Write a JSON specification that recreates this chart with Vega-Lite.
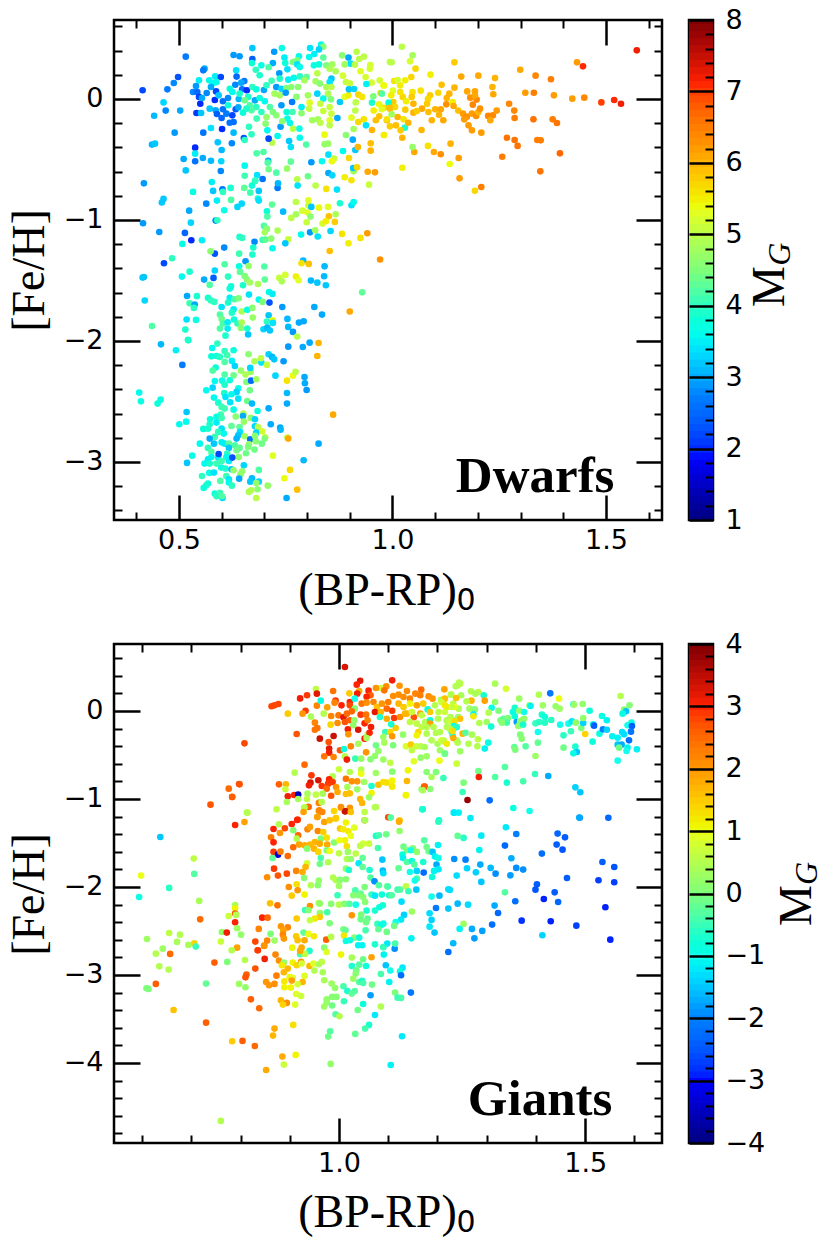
{"$schema":"https://vega.github.io/schema/vega-lite/v6.json","background":"white","padding":{"left":4,"top":4,"right":0,"bottom":0},"config":{"view":{"stroke":"black","strokeWidth":2.5},"axis":{"grid":false,"domain":false,"tickColor":"black","labelColor":"black","labelFont":"DejaVu Sans","labelFontSize":27,"titleColor":"black","titleFont":"Liberation Serif","titleFontWeight":"normal","titleFontSize":46,"titleBaseline":"alphabetic","labelOverlap":false,"labelFlush":false}},
"datasets":{
"dwarfs":[{"x":0.415,"y":0.072,"m":2.2},{"x":0.516,"y":0.35,"m":2.7},{"x":0.498,"y":0.182,"m":2.3},{"x":0.488,"y":0.132,"m":2.8},{"x":0.473,"y":0.08,"m":2.7},{"x":0.464,"y":-0.028,"m":3.3},{"x":0.469,"y":-0.096,"m":2.8},{"x":0.503,"y":-0.096,"m":3.0},{"x":0.442,"y":-0.138,"m":3.1},{"x":0.49,"y":-0.278,"m":2.9},{"x":0.437,"y":-0.377,"m":3.1},{"x":0.444,"y":-0.369,"m":3.2},{"x":0.56,"y":0.251,"m":3.0},{"x":0.557,"y":0.237,"m":2.7},{"x":0.547,"y":0.154,"m":3.5},{"x":0.54,"y":0.107,"m":2.9},{"x":0.533,"y":0.058,"m":2.8},{"x":0.543,"y":0.058,"m":2.5},{"x":0.547,"y":0.017,"m":2.2},{"x":0.55,"y":-0.039,"m":2.0},{"x":0.541,"y":-0.116,"m":2.1},{"x":0.552,"y":-0.116,"m":3.2},{"x":0.565,"y":0.05,"m":2.8},{"x":0.554,"y":0.008,"m":3.0},{"x":0.571,"y":0.154,"m":3.6},{"x":0.585,"y":0.187,"m":3.5},{"x":0.598,"y":0.182,"m":2.2},{"x":0.58,"y":0.132,"m":3.6},{"x":0.588,"y":0.14,"m":3.6},{"x":0.575,"y":0.099,"m":3.0},{"x":0.587,"y":0.063,"m":2.2},{"x":0.584,"y":-0.008,"m":2.0},{"x":0.593,"y":0.03,"m":3.2},{"x":0.603,"y":-0.019,"m":2.6},{"x":0.615,"y":0.008,"m":2.8},{"x":0.572,"y":-0.08,"m":3.2},{"x":0.586,"y":-0.094,"m":3.0},{"x":0.589,"y":-0.124,"m":2.4},{"x":0.603,"y":-0.085,"m":2.6},{"x":0.611,"y":-0.121,"m":2.7},{"x":0.6,"y":-0.157,"m":2.5},{"x":0.619,"y":-0.196,"m":2.6},{"x":0.628,"y":-0.19,"m":2.6},{"x":0.625,"y":-0.135,"m":2.2},{"x":0.633,"y":-0.085,"m":2.4},{"x":0.639,"y":-0.069,"m":3.0},{"x":0.615,"y":-0.052,"m":3.8},{"x":0.64,"y":0.0,"m":3.1},{"x":0.575,"y":-0.24,"m":3.4},{"x":0.601,"y":-0.248,"m":2.0},{"x":0.628,"y":-0.278,"m":3.1},{"x":0.557,"y":-0.278,"m":2.6},{"x":0.591,"y":-0.358,"m":3.2},{"x":0.6,"y":-0.422,"m":3.1},{"x":0.624,"y":-0.366,"m":2.8},{"x":0.652,"y":-0.322,"m":2.3},{"x":0.654,"y":-0.339,"m":4.0},{"x":0.67,"y":-0.292,"m":4.0},{"x":0.538,"y":-0.402,"m":2.0},{"x":0.538,"y":-0.452,"m":3.5},{"x":0.538,"y":-0.515,"m":2.6},{"x":0.556,"y":-0.488,"m":3.0},{"x":0.511,"y":-0.496,"m":3.0},{"x":0.575,"y":-0.51,"m":3.1},{"x":0.599,"y":-0.515,"m":3.3},{"x":0.516,"y":-0.59,"m":3.2},{"x":0.598,"y":-0.595,"m":2.8},{"x":0.654,"y":-0.551,"m":3.6},{"x":0.654,"y":-0.634,"m":4.1},{"x":0.683,"y":-0.628,"m":3.4},{"x":0.696,"y":-0.661,"m":2.6},{"x":0.679,"y":-0.672,"m":4.0},{"x":0.709,"y":-0.512,"m":3.0},{"x":0.708,"y":-0.526,"m":4.2},{"x":0.71,"y":-0.581,"m":4.4},{"x":0.728,"y":-0.609,"m":4.2},{"x":0.753,"y":-0.576,"m":4.7},{"x":0.762,"y":-0.518,"m":4.3},{"x":0.682,"y":-0.449,"m":4.2},{"x":0.698,"y":-0.438,"m":4.2},{"x":0.81,"y":-0.523,"m":2.9},{"x":0.835,"y":-0.515,"m":3.6},{"x":0.85,"y":-0.46,"m":3.4},{"x":0.777,"y":-0.664,"m":5.0},{"x":0.802,"y":-0.639,"m":4.4},{"x":0.85,"y":-0.612,"m":3.0},{"x":0.859,"y":-0.631,"m":3.3},{"x":0.888,"y":-0.647,"m":5.5},{"x":0.904,"y":-0.672,"m":5.6},{"x":0.909,"y":-0.598,"m":4.8},{"x":0.908,"y":-0.57,"m":3.2},{"x":0.917,"y":-0.565,"m":5.7},{"x":0.942,"y":-0.601,"m":6.1},{"x":0.959,"y":-0.606,"m":6.2},{"x":0.863,"y":-0.493,"m":5.1},{"x":0.858,"y":-0.515,"m":5.4},{"x":0.898,"y":-0.488,"m":5.7},{"x":0.884,"y":-0.43,"m":3.6},{"x":0.913,"y":-0.422,"m":3.2},{"x":0.919,"y":-0.397,"m":6.0},{"x":0.907,"y":-0.336,"m":3.0},{"x":0.949,"y":-0.366,"m":5.9},{"x":0.949,"y":-0.427,"m":6.0},{"x":0.952,"y":-0.256,"m":6.0},{"x":0.841,"y":-0.375,"m":4.7},{"x":0.849,"y":-0.369,"m":4.7},{"x":0.841,"y":-0.295,"m":5.4},{"x":0.798,"y":-0.377,"m":4.2},{"x":0.783,"y":-0.32,"m":3.6},{"x":0.782,"y":-0.245,"m":3.7},{"x":0.767,"y":-0.245,"m":5.0},{"x":0.758,"y":-0.347,"m":3.2},{"x":0.762,"y":-0.397,"m":3.4},{"x":0.718,"y":-0.361,"m":5.0},{"x":0.71,"y":-0.328,"m":2.2},{"x":0.707,"y":-0.259,"m":3.6},{"x":0.731,"y":-0.306,"m":3.6},{"x":0.738,"y":-0.229,"m":2.9},{"x":0.664,"y":-0.229,"m":4.0},{"x":0.672,"y":0.421,"m":3.2},{"x":0.628,"y":0.364,"m":2.9},{"x":0.642,"y":0.353,"m":2.9},{"x":0.672,"y":0.331,"m":2.4},{"x":0.671,"y":0.297,"m":3.8},{"x":0.723,"y":0.391,"m":2.9},{"x":0.741,"y":0.421,"m":3.7},{"x":0.747,"y":0.342,"m":3.5},{"x":0.72,"y":0.297,"m":3.0},{"x":0.693,"y":0.278,"m":3.7},{"x":0.71,"y":0.262,"m":4.2},{"x":0.68,"y":0.242,"m":4.0},{"x":0.634,"y":0.237,"m":3.4},{"x":0.635,"y":0.185,"m":2.5},{"x":0.735,"y":0.212,"m":2.9},{"x":0.689,"y":0.196,"m":3.9},{"x":0.749,"y":0.297,"m":3.8},{"x":0.754,"y":0.245,"m":3.4},{"x":0.781,"y":0.353,"m":3.6},{"x":0.767,"y":0.306,"m":4.5},{"x":0.777,"y":0.32,"m":4.5},{"x":0.777,"y":0.286,"m":3.4},{"x":0.783,"y":0.264,"m":3.6},{"x":0.807,"y":0.421,"m":3.4},{"x":0.833,"y":0.449,"m":3.6},{"x":0.838,"y":0.432,"m":4.6},{"x":0.828,"y":0.41,"m":3.3},{"x":0.817,"y":0.372,"m":3.5},{"x":0.805,"y":0.347,"m":3.6},{"x":0.838,"y":0.342,"m":4.3},{"x":0.816,"y":0.278,"m":3.7},{"x":0.828,"y":0.286,"m":3.8},{"x":0.845,"y":0.278,"m":4.5},{"x":0.859,"y":0.286,"m":4.8},{"x":0.853,"y":0.251,"m":4.9},{"x":0.867,"y":0.229,"m":4.9},{"x":0.824,"y":0.212,"m":5.0},{"x":0.882,"y":0.361,"m":4.6},{"x":0.897,"y":0.342,"m":3.0},{"x":0.902,"y":0.292,"m":3.4},{"x":0.888,"y":0.286,"m":4.8},{"x":0.916,"y":0.391,"m":5.0},{"x":0.922,"y":0.331,"m":5.0},{"x":0.933,"y":0.35,"m":5.0},{"x":0.912,"y":0.284,"m":5.0},{"x":0.948,"y":0.281,"m":5.2},{"x":0.947,"y":0.251,"m":5.2},{"x":0.925,"y":0.229,"m":5.3},{"x":0.884,"y":0.193,"m":5.2},{"x":0.937,"y":0.182,"m":5.2},{"x":0.857,"y":0.168,"m":3.2},{"x":0.853,"y":0.14,"m":3.4},{"x":0.82,"y":0.146,"m":4.8},{"x":0.83,"y":0.127,"m":4.6},{"x":0.891,"y":0.14,"m":5.1},{"x":0.9,"y":0.129,"m":5.1},{"x":0.951,"y":0.135,"m":5.2},{"x":0.939,"y":0.124,"m":3.5},{"x":0.97,"y":0.154,"m":5.2},{"x":0.98,"y":0.11,"m":5.3},{"x":0.994,"y":0.306,"m":5.0},{"x":0.653,"y":0.149,"m":2.7},{"x":0.646,"y":0.135,"m":3.0},{"x":0.632,"y":0.118,"m":2.8},{"x":0.619,"y":0.085,"m":3.8},{"x":0.625,"y":0.058,"m":3.6},{"x":0.648,"y":0.08,"m":2.6},{"x":0.659,"y":0.072,"m":2.0},{"x":0.672,"y":0.099,"m":4.0},{"x":0.681,"y":0.08,"m":3.8},{"x":0.699,"y":0.074,"m":3.0},{"x":0.705,"y":0.113,"m":4.0},{"x":0.717,"y":0.151,"m":4.1},{"x":0.736,"y":0.168,"m":3.9},{"x":0.756,"y":0.16,"m":3.5},{"x":0.769,"y":0.176,"m":3.6},{"x":0.783,"y":0.187,"m":4.0},{"x":0.799,"y":0.182,"m":4.3},{"x":0.728,"y":0.099,"m":2.9},{"x":0.74,"y":0.085,"m":3.3},{"x":0.752,"y":0.091,"m":4.5},{"x":0.763,"y":0.099,"m":4.6},{"x":0.779,"y":0.099,"m":4.6},{"x":0.794,"y":0.154,"m":4.8},{"x":0.724,"y":0.044,"m":4.8},{"x":0.736,"y":0.03,"m":4.8},{"x":0.75,"y":0.052,"m":2.9},{"x":0.775,"y":0.017,"m":4.6},{"x":0.802,"y":0.03,"m":4.8},{"x":0.824,"y":0.044,"m":3.3},{"x":0.845,"y":0.099,"m":4.9},{"x":0.857,"y":0.099,"m":5.0},{"x":0.849,"y":0.044,"m":4.9},{"x":0.838,"y":0.003,"m":3.6},{"x":0.856,"y":-0.003,"m":4.5},{"x":0.877,"y":-0.025,"m":3.2},{"x":0.888,"y":0.017,"m":5.3},{"x":0.897,"y":0.03,"m":5.5},{"x":0.898,"y":0.08,"m":3.2},{"x":0.91,"y":0.083,"m":3.3},{"x":0.92,"y":0.036,"m":5.7},{"x":0.929,"y":0.017,"m":5.6},{"x":0.955,"y":0.022,"m":4.5},{"x":0.952,"y":-0.03,"m":3.9},{"x":0.972,"y":0.05,"m":5.6},{"x":0.914,"y":-0.028,"m":5.0},{"x":0.969,"y":-0.044,"m":5.4},{"x":0.98,"y":-0.072,"m":5.6},{"x":0.956,"y":-0.096,"m":5.5},{"x":0.992,"y":-0.039,"m":6.0},{"x":0.994,"y":-0.08,"m":5.9},{"x":0.913,"y":-0.096,"m":5.0},{"x":0.904,"y":-0.154,"m":5.3},{"x":0.92,"y":-0.19,"m":5.7},{"x":0.933,"y":-0.168,"m":5.6},{"x":0.961,"y":-0.176,"m":5.9},{"x":0.969,"y":-0.143,"m":5.9},{"x":0.987,"y":-0.176,"m":6.0},{"x":0.938,"y":-0.218,"m":3.4},{"x":0.909,"y":-0.248,"m":4.8},{"x":0.98,"y":-0.298,"m":5.4},{"x":0.891,"y":-0.298,"m":4.6},{"x":0.678,"y":-0.011,"m":3.0},{"x":0.689,"y":0.008,"m":3.8},{"x":0.701,"y":-0.019,"m":3.6},{"x":0.666,"y":-0.052,"m":4.2},{"x":0.681,"y":-0.066,"m":4.0},{"x":0.65,"y":-0.113,"m":3.8},{"x":0.67,"y":-0.094,"m":4.2},{"x":0.693,"y":-0.107,"m":4.0},{"x":0.713,"y":-0.066,"m":4.2},{"x":0.72,"y":-0.107,"m":4.5},{"x":0.728,"y":-0.135,"m":4.6},{"x":0.74,"y":-0.052,"m":2.9},{"x":0.752,"y":-0.107,"m":3.8},{"x":0.766,"y":-0.107,"m":4.1},{"x":0.787,"y":-0.118,"m":4.6},{"x":0.754,"y":-0.162,"m":3.7},{"x":0.76,"y":-0.198,"m":3.6},{"x":0.742,"y":-0.184,"m":4.6},{"x":0.705,"y":-0.149,"m":4.7},{"x":0.703,"y":-0.204,"m":4.6},{"x":0.682,"y":-0.162,"m":4.1},{"x":0.765,"y":-0.025,"m":2.7},{"x":0.787,"y":-0.066,"m":3.5},{"x":0.805,"y":-0.08,"m":5.1},{"x":0.806,"y":-0.03,"m":5.3},{"x":0.831,"y":-0.039,"m":5.1},{"x":0.838,"y":-0.099,"m":5.1},{"x":0.853,"y":-0.066,"m":5.1},{"x":0.857,"y":-0.121,"m":5.1},{"x":0.871,"y":-0.157,"m":3.0},{"x":0.853,"y":-0.176,"m":5.3},{"x":0.812,"y":-0.176,"m":4.8},{"x":0.825,"y":-0.168,"m":4.8},{"x":0.831,"y":-0.196,"m":5.0},{"x":0.853,"y":-0.218,"m":5.0},{"x":0.662,"y":0.017,"m":3.9},{"x":0.642,"y":0.044,"m":3.9},{"x":0.654,"y":-0.011,"m":4.4},{"x":0.658,"y":-0.08,"m":3.9},{"x":1.022,"y":0.432,"m":5.0},{"x":1.047,"y":0.361,"m":4.8},{"x":0.998,"y":0.303,"m":5.0},{"x":1.041,"y":0.311,"m":5.2},{"x":1.054,"y":0.251,"m":5.7},{"x":1.145,"y":0.303,"m":5.8},{"x":1.089,"y":0.201,"m":5.5},{"x":1.044,"y":0.182,"m":5.7},{"x":1.161,"y":0.185,"m":6.1},{"x":1.201,"y":0.193,"m":6.1},{"x":1.24,"y":0.173,"m":6.0},{"x":1.299,"y":0.242,"m":6.1},{"x":1.335,"y":0.193,"m":6.4},{"x":1.371,"y":0.163,"m":6.5},{"x":1.432,"y":0.303,"m":6.2},{"x":1.446,"y":0.27,"m":7.1},{"x":1.572,"y":0.402,"m":7.2},{"x":1.115,"y":0.118,"m":5.9},{"x":1.145,"y":0.094,"m":6.0},{"x":1.234,"y":0.099,"m":6.0},{"x":1.236,"y":0.039,"m":6.1},{"x":1.311,"y":0.052,"m":6.2},{"x":1.331,"y":0.052,"m":6.5},{"x":1.378,"y":0.03,"m":6.2},{"x":1.421,"y":0.003,"m":6.2},{"x":1.449,"y":0.011,"m":6.4},{"x":1.489,"y":-0.028,"m":7.0},{"x":1.519,"y":-0.008,"m":7.1},{"x":1.535,"y":-0.039,"m":7.2},{"x":1.273,"y":-0.039,"m":6.4},{"x":1.285,"y":-0.096,"m":6.4},{"x":1.286,"y":-0.157,"m":6.5},{"x":1.33,"y":-0.168,"m":6.6},{"x":1.375,"y":-0.168,"m":6.5},{"x":1.385,"y":-0.198,"m":6.6},{"x":1.268,"y":-0.32,"m":6.6},{"x":1.286,"y":-0.339,"m":6.6},{"x":1.293,"y":-0.388,"m":6.6},{"x":1.339,"y":-0.339,"m":6.5},{"x":1.347,"y":-0.342,"m":6.5},{"x":1.392,"y":-0.449,"m":6.7},{"x":1.257,"y":-0.477,"m":6.5},{"x":1.346,"y":-0.598,"m":6.6},{"x":1.208,"y":-0.727,"m":6.5},{"x":1.193,"y":-0.758,"m":5.7},{"x":1.157,"y":-0.656,"m":6.2},{"x":1.134,"y":-0.537,"m":5.4},{"x":1.155,"y":-0.488,"m":6.2},{"x":1.136,"y":-0.369,"m":6.0},{"x":1.097,"y":-0.438,"m":6.1},{"x":1.113,"y":-0.457,"m":6.3},{"x":1.083,"y":-0.388,"m":5.6},{"x":1.051,"y":-0.438,"m":6.1},{"x":1.047,"y":-0.397,"m":4.7},{"x":1.023,"y":-0.568,"m":5.5},{"x":1.023,"y":-0.32,"m":6.0},{"x":1.029,"y":-0.237,"m":3.9},{"x":0.98,"y":-0.298,"m":5.5},{"x":1.068,"y":-0.256,"m":6.0},{"x":1.092,"y":-0.176,"m":6.0},{"x":1.119,"y":-0.176,"m":6.1},{"x":1.208,"y":-0.278,"m":6.2},{"x":1.186,"y":-0.259,"m":6.2},{"x":1.178,"y":-0.218,"m":6.2},{"x":1.066,"y":0.069,"m":5.6},{"x":1.107,"y":0.052,"m":5.7},{"x":1.088,"y":0.03,"m":5.8},{"x":1.133,"y":0.044,"m":6.0},{"x":1.127,"y":0.008,"m":6.0},{"x":1.083,"y":0.0,"m":5.7},{"x":1.081,"y":-0.039,"m":5.8},{"x":1.047,"y":0.058,"m":5.6},{"x":1.045,"y":0.017,"m":5.8},{"x":1.024,"y":0.017,"m":5.7},{"x":1.018,"y":0.058,"m":5.6},{"x":1.001,"y":0.069,"m":5.3},{"x":0.997,"y":0.03,"m":5.5},{"x":1.018,"y":0.113,"m":5.5},{"x":1.004,"y":0.149,"m":5.6},{"x":1.012,"y":0.157,"m":5.2},{"x":1.03,"y":0.154,"m":5.5},{"x":0.979,"y":0.113,"m":5.4},{"x":1.032,"y":-0.019,"m":5.5},{"x":1.049,"y":-0.039,"m":6.0},{"x":1.002,"y":-0.025,"m":5.8},{"x":0.991,"y":-0.03,"m":3.8},{"x":0.975,"y":0.044,"m":4.2},{"x":1.006,"y":-0.066,"m":5.7},{"x":0.993,"y":-0.072,"m":5.9},{"x":0.975,"y":-0.085,"m":5.3},{"x":1.03,"y":-0.088,"m":5.8},{"x":1.049,"y":-0.113,"m":6.0},{"x":1.069,"y":-0.08,"m":6.1},{"x":1.057,"y":-0.099,"m":5.8},{"x":1.084,"y":-0.107,"m":5.9},{"x":1.1,"y":-0.085,"m":6.0},{"x":1.113,"y":-0.085,"m":6.1},{"x":1.109,"y":-0.13,"m":6.0},{"x":1.126,"y":-0.044,"m":6.3},{"x":1.141,"y":-0.025,"m":5.5},{"x":1.143,"y":-0.058,"m":6.1},{"x":1.154,"y":-0.096,"m":5.9},{"x":1.165,"y":-0.121,"m":6.2},{"x":1.174,"y":-0.146,"m":6.3},{"x":1.168,"y":-0.168,"m":6.2},{"x":1.186,"y":-0.121,"m":6.2},{"x":1.196,"y":-0.14,"m":6.3},{"x":1.201,"y":-0.107,"m":6.0},{"x":1.205,"y":-0.08,"m":6.3},{"x":1.188,"y":-0.047,"m":6.4},{"x":1.197,"y":-0.005,"m":6.4},{"x":1.182,"y":0.011,"m":6.3},{"x":1.175,"y":0.063,"m":6.1},{"x":1.193,"y":0.063,"m":6.1},{"x":1.193,"y":0.03,"m":6.1},{"x":1.224,"y":-0.14,"m":6.4},{"x":1.235,"y":-0.135,"m":6.4},{"x":1.229,"y":-0.176,"m":6.1},{"x":1.244,"y":-0.096,"m":6.2},{"x":1.012,"y":-0.149,"m":6.0},{"x":0.987,"y":-0.168,"m":5.6},{"x":0.994,"y":-0.226,"m":5.8},{"x":1.008,"y":-0.218,"m":5.9},{"x":1.019,"y":-0.259,"m":5.8},{"x":1.026,"y":-0.168,"m":5.6},{"x":1.037,"y":-0.196,"m":6.0},{"x":0.998,"y":-0.127,"m":4.8},{"x":0.418,"y":-0.697,"m":2.9},{"x":0.464,"y":-0.826,"m":3.2},{"x":0.46,"y":-0.856,"m":3.2},{"x":0.533,"y":-0.768,"m":3.7},{"x":0.577,"y":-0.686,"m":3.5},{"x":0.58,"y":-0.76,"m":3.2},{"x":0.602,"y":-0.746,"m":2.6},{"x":0.603,"y":-0.768,"m":4.0},{"x":0.621,"y":-0.735,"m":3.9},{"x":0.589,"y":-0.84,"m":3.5},{"x":0.622,"y":-0.834,"m":4.2},{"x":0.564,"y":-0.865,"m":2.8},{"x":0.524,"y":-0.923,"m":3.0},{"x":0.606,"y":-0.92,"m":3.7},{"x":0.647,"y":-0.865,"m":3.3},{"x":0.637,"y":-0.892,"m":3.3},{"x":0.653,"y":-0.735,"m":4.3},{"x":0.671,"y":-0.716,"m":3.8},{"x":0.678,"y":-0.68,"m":4.0},{"x":0.667,"y":-0.774,"m":4.1},{"x":0.687,"y":-0.76,"m":3.2},{"x":0.731,"y":-0.735,"m":2.7},{"x":0.732,"y":-0.697,"m":3.1},{"x":0.778,"y":-0.716,"m":3.4},{"x":0.82,"y":-0.716,"m":5.0},{"x":0.845,"y":-0.743,"m":5.6},{"x":0.87,"y":-0.749,"m":3.4},{"x":0.945,"y":-0.708,"m":5.1},{"x":0.685,"y":-0.823,"m":3.7},{"x":0.687,"y":-0.84,"m":3.4},{"x":0.718,"y":-0.873,"m":4.3},{"x":0.774,"y":-0.851,"m":5.0},{"x":0.803,"y":-0.837,"m":5.3},{"x":0.803,"y":-0.881,"m":5.2},{"x":0.828,"y":-0.898,"m":5.4},{"x":0.849,"y":-0.892,"m":5.3},{"x":0.877,"y":-0.862,"m":3.9},{"x":0.904,"y":-0.878,"m":3.4},{"x":0.909,"y":-0.851,"m":3.6},{"x":0.81,"y":-0.892,"m":3.2},{"x":0.706,"y":-0.928,"m":3.8},{"x":0.707,"y":-0.972,"m":4.2},{"x":0.744,"y":-0.931,"m":3.1},{"x":0.774,"y":-0.953,"m":4.8},{"x":0.763,"y":-0.983,"m":5.0},{"x":0.789,"y":-0.923,"m":5.2},{"x":0.801,"y":-0.939,"m":5.3},{"x":0.808,"y":-0.972,"m":4.6},{"x":0.867,"y":-0.953,"m":4.9},{"x":0.851,"y":-0.969,"m":5.9},{"x":0.836,"y":-1.03,"m":5.2},{"x":0.799,"y":-1.019,"m":5.1},{"x":0.844,"y":-1.011,"m":5.5},{"x":0.865,"y":-1.016,"m":5.8},{"x":0.416,"y":-1.027,"m":2.9},{"x":0.528,"y":-1.022,"m":3.3},{"x":0.586,"y":-1.005,"m":2.8},{"x":0.59,"y":-1.002,"m":4.0},{"x":0.454,"y":-1.099,"m":2.9},{"x":0.514,"y":-1.107,"m":2.5},{"x":0.529,"y":-1.168,"m":2.0},{"x":0.554,"y":-1.168,"m":3.5},{"x":0.508,"y":-1.198,"m":3.7},{"x":0.699,"y":-1.049,"m":4.2},{"x":0.706,"y":-1.074,"m":4.6},{"x":0.701,"y":-1.102,"m":4.8},{"x":0.731,"y":-1.088,"m":4.9},{"x":0.786,"y":-1.121,"m":3.6},{"x":0.807,"y":-1.102,"m":2.9},{"x":0.819,"y":-1.085,"m":4.8},{"x":0.825,"y":-1.137,"m":3.4},{"x":0.855,"y":-1.091,"m":3.3},{"x":0.882,"y":-1.115,"m":5.6},{"x":0.941,"y":-1.11,"m":6.2},{"x":0.925,"y":-1.148,"m":5.6},{"x":0.897,"y":-1.193,"m":5.5},{"x":0.853,"y":-1.256,"m":5.9},{"x":0.971,"y":-1.327,"m":6.3},{"x":0.642,"y":-1.14,"m":3.9},{"x":0.648,"y":-1.148,"m":4.0},{"x":0.677,"y":-1.181,"m":2.8},{"x":0.696,"y":-1.165,"m":4.1},{"x":0.703,"y":-1.162,"m":4.3},{"x":0.716,"y":-1.154,"m":4.6},{"x":0.756,"y":-1.159,"m":5.1},{"x":0.749,"y":-1.193,"m":3.2},{"x":0.719,"y":-1.234,"m":3.6},{"x":0.674,"y":-1.228,"m":3.9},{"x":0.672,"y":-1.286,"m":3.9},{"x":0.641,"y":-1.278,"m":4.1},{"x":0.606,"y":-1.228,"m":2.8},{"x":0.584,"y":-1.278,"m":2.3},{"x":0.574,"y":-1.259,"m":4.6},{"x":0.465,"y":-1.358,"m":2.2},{"x":0.484,"y":-1.316,"m":4.0},{"x":0.607,"y":-1.366,"m":4.2},{"x":0.656,"y":-1.341,"m":2.9},{"x":0.663,"y":-1.38,"m":4.7},{"x":0.641,"y":-1.383,"m":3.7},{"x":0.7,"y":-1.385,"m":4.2},{"x":0.791,"y":-1.336,"m":3.1},{"x":0.787,"y":-1.358,"m":5.6},{"x":0.804,"y":-1.363,"m":5.9},{"x":0.841,"y":-1.383,"m":3.1},{"x":0.525,"y":-1.427,"m":3.9},{"x":0.584,"y":-1.418,"m":3.3},{"x":0.507,"y":-1.468,"m":3.6},{"x":0.418,"y":-1.471,"m":3.2},{"x":0.415,"y":-1.476,"m":3.2},{"x":0.559,"y":-1.493,"m":3.0},{"x":0.581,"y":-1.479,"m":2.4},{"x":0.615,"y":-1.468,"m":4.0},{"x":0.643,"y":-1.429,"m":4.3},{"x":0.654,"y":-1.463,"m":4.5},{"x":0.659,"y":-1.49,"m":4.6},{"x":0.666,"y":-1.517,"m":4.8},{"x":0.65,"y":-1.54,"m":3.9},{"x":0.701,"y":-1.493,"m":4.3},{"x":0.685,"y":-1.529,"m":4.9},{"x":0.572,"y":-1.537,"m":4.2},{"x":0.622,"y":-1.548,"m":3.8},{"x":0.619,"y":-1.567,"m":3.8},{"x":0.735,"y":-1.479,"m":5.1},{"x":0.749,"y":-1.454,"m":5.2},{"x":0.741,"y":-1.507,"m":4.9},{"x":0.774,"y":-1.468,"m":5.5},{"x":0.78,"y":-1.498,"m":5.3},{"x":0.809,"y":-1.501,"m":3.1},{"x":0.824,"y":-1.518,"m":3.2},{"x":0.84,"y":-1.465,"m":3.1},{"x":0.844,"y":-1.54,"m":3.2},{"x":0.929,"y":-1.598,"m":4.3},{"x":0.42,"y":-1.666,"m":3.3},{"x":0.519,"y":-1.628,"m":3.0},{"x":0.542,"y":-1.63,"m":3.9},{"x":0.568,"y":-1.644,"m":3.9},{"x":0.575,"y":-1.666,"m":4.0},{"x":0.583,"y":-1.677,"m":4.0},{"x":0.619,"y":-1.644,"m":3.5},{"x":0.63,"y":-1.655,"m":4.2},{"x":0.64,"y":-1.647,"m":4.5},{"x":0.615,"y":-1.683,"m":3.9},{"x":0.664,"y":-1.617,"m":3.4},{"x":0.687,"y":-1.658,"m":3.6},{"x":0.696,"y":-1.677,"m":4.5},{"x":0.711,"y":-1.595,"m":3.6},{"x":0.719,"y":-1.611,"m":3.5},{"x":0.712,"y":-1.683,"m":2.3},{"x":0.742,"y":-1.719,"m":2.9},{"x":0.817,"y":-1.719,"m":3.0},{"x":0.835,"y":-1.782,"m":3.0},{"x":0.9,"y":-1.757,"m":6.1},{"x":0.525,"y":-1.688,"m":4.1},{"x":0.537,"y":-1.699,"m":3.0},{"x":0.535,"y":-1.727,"m":4.0},{"x":0.6,"y":-1.719,"m":3.4},{"x":0.628,"y":-1.738,"m":3.5},{"x":0.624,"y":-1.766,"m":3.9},{"x":0.647,"y":-1.757,"m":4.9},{"x":0.66,"y":-1.743,"m":3.7},{"x":0.672,"y":-1.727,"m":4.6},{"x":0.673,"y":-1.807,"m":4.7},{"x":0.596,"y":-1.782,"m":4.2},{"x":0.6,"y":-1.818,"m":4.4},{"x":0.518,"y":-1.823,"m":3.4},{"x":0.54,"y":-1.826,"m":3.7},{"x":0.437,"y":-1.876,"m":4.2},{"x":0.515,"y":-1.906,"m":3.9},{"x":0.603,"y":-1.856,"m":4.2},{"x":0.614,"y":-1.845,"m":3.5},{"x":0.629,"y":-1.823,"m":3.8},{"x":0.637,"y":-1.856,"m":4.0},{"x":0.647,"y":-1.848,"m":4.9},{"x":0.596,"y":-1.898,"m":4.2},{"x":0.614,"y":-1.898,"m":3.5},{"x":0.645,"y":-1.892,"m":4.6},{"x":0.66,"y":-1.898,"m":3.9},{"x":0.662,"y":-1.947,"m":3.2},{"x":0.609,"y":-1.956,"m":3.9},{"x":0.521,"y":-1.991,"m":3.9},{"x":0.71,"y":-1.788,"m":3.2},{"x":0.72,"y":-1.829,"m":5.4},{"x":0.706,"y":-1.84,"m":4.0},{"x":0.72,"y":-1.851,"m":3.4},{"x":0.698,"y":-1.903,"m":3.3},{"x":0.707,"y":-1.89,"m":3.1},{"x":0.713,"y":-1.914,"m":3.2},{"x":0.754,"y":-1.818,"m":3.1},{"x":0.781,"y":-1.848,"m":3.0},{"x":0.792,"y":-1.837,"m":3.0},{"x":0.756,"y":-1.884,"m":3.1},{"x":0.767,"y":-1.925,"m":2.9},{"x":0.777,"y":-1.964,"m":5.0},{"x":0.458,"y":-2.028,"m":3.1},{"x":0.493,"y":-2.077,"m":3.5},{"x":0.522,"y":-1.995,"m":3.9},{"x":0.508,"y":-2.198,"m":2.7},{"x":0.578,"y":-2.058,"m":3.6},{"x":0.59,"y":-2.022,"m":4.0},{"x":0.576,"y":-2.127,"m":3.8},{"x":0.588,"y":-2.124,"m":3.8},{"x":0.596,"y":-2.132,"m":4.0},{"x":0.607,"y":-2.083,"m":4.0},{"x":0.613,"y":-2.118,"m":4.1},{"x":0.607,"y":-2.174,"m":4.2},{"x":0.628,"y":-2.077,"m":3.8},{"x":0.624,"y":-2.165,"m":3.5},{"x":0.631,"y":-2.207,"m":3.3},{"x":0.663,"y":-2.11,"m":4.6},{"x":0.677,"y":-2.168,"m":4.9},{"x":0.693,"y":-2.179,"m":3.4},{"x":0.692,"y":-2.143,"m":5.0},{"x":0.706,"y":-2.198,"m":5.1},{"x":0.71,"y":-2.11,"m":3.3},{"x":0.718,"y":-2.132,"m":3.1},{"x":0.723,"y":-2.152,"m":3.2},{"x":0.745,"y":-2.168,"m":2.9},{"x":0.756,"y":-2.047,"m":2.9},{"x":0.79,"y":-2.05,"m":3.0},{"x":0.806,"y":-2.014,"m":3.0},{"x":0.827,"y":-2.017,"m":6.0},{"x":0.824,"y":-2.124,"m":6.0},{"x":0.586,"y":-2.22,"m":3.8},{"x":0.579,"y":-2.245,"m":4.2},{"x":0.607,"y":-2.278,"m":4.2},{"x":0.628,"y":-2.284,"m":4.4},{"x":0.645,"y":-2.245,"m":4.7},{"x":0.656,"y":-2.278,"m":4.9},{"x":0.668,"y":-2.256,"m":4.8},{"x":0.584,"y":-2.331,"m":3.6},{"x":0.601,"y":-2.328,"m":3.7},{"x":0.619,"y":-2.325,"m":3.8},{"x":0.607,"y":-2.361,"m":3.9},{"x":0.658,"y":-2.339,"m":4.5},{"x":0.669,"y":-2.328,"m":2.5},{"x":0.681,"y":-2.317,"m":4.8},{"x":0.667,"y":-2.223,"m":3.3},{"x":0.726,"y":-2.287,"m":3.3},{"x":0.753,"y":-2.328,"m":5.6},{"x":0.767,"y":-2.287,"m":5.4},{"x":0.773,"y":-2.256,"m":5.0},{"x":0.794,"y":-2.298,"m":3.0},{"x":0.795,"y":-2.35,"m":3.0},{"x":0.799,"y":-2.405,"m":2.9},{"x":0.564,"y":-2.408,"m":3.6},{"x":0.579,"y":-2.386,"m":3.3},{"x":0.606,"y":-2.43,"m":3.9},{"x":0.639,"y":-2.391,"m":3.7},{"x":0.635,"y":-2.421,"m":3.3},{"x":0.623,"y":-2.441,"m":3.6},{"x":0.666,"y":-2.408,"m":4.4},{"x":0.753,"y":-2.43,"m":3.1},{"x":0.582,"y":-2.468,"m":3.6},{"x":0.609,"y":-2.463,"m":3.4},{"x":0.639,"y":-2.477,"m":3.4},{"x":0.62,"y":-2.507,"m":3.4},{"x":0.592,"y":-2.51,"m":3.9},{"x":0.6,"y":-2.545,"m":4.1},{"x":0.607,"y":-2.559,"m":4.1},{"x":0.66,"y":-2.496,"m":4.4},{"x":0.671,"y":-2.518,"m":3.1},{"x":0.753,"y":-2.518,"m":3.0},{"x":0.628,"y":-2.568,"m":3.7},{"x":0.71,"y":-2.557,"m":3.0},{"x":0.684,"y":-2.579,"m":3.8},{"x":0.518,"y":-2.587,"m":3.2},{"x":0.651,"y":-2.601,"m":4.9},{"x":0.65,"y":-2.62,"m":3.0},{"x":0.668,"y":-2.636,"m":4.7},{"x":0.678,"y":-2.647,"m":3.3},{"x":0.633,"y":-2.625,"m":4.6},{"x":0.598,"y":-2.609,"m":4.1},{"x":0.588,"y":-2.628,"m":3.7},{"x":0.6,"y":-2.636,"m":4.1},{"x":0.573,"y":-2.647,"m":3.8},{"x":0.588,"y":-2.675,"m":3.5},{"x":0.652,"y":-2.667,"m":4.7},{"x":0.501,"y":-2.689,"m":3.6},{"x":0.517,"y":-2.667,"m":3.6},{"x":0.861,"y":-2.609,"m":6.1},{"x":0.572,"y":-2.689,"m":3.9},{"x":0.557,"y":-2.727,"m":3.8},{"x":0.568,"y":-2.725,"m":3.9},{"x":0.715,"y":-2.689,"m":3.0},{"x":0.737,"y":-2.716,"m":3.0},{"x":0.738,"y":-2.733,"m":3.1},{"x":0.678,"y":-2.705,"m":3.3},{"x":0.685,"y":-2.711,"m":5.0},{"x":0.695,"y":-2.747,"m":5.2},{"x":0.681,"y":-2.758,"m":3.3},{"x":0.623,"y":-2.703,"m":4.3},{"x":0.642,"y":-2.711,"m":4.3},{"x":0.643,"y":-2.752,"m":3.4},{"x":0.6,"y":-2.725,"m":3.4},{"x":0.605,"y":-2.766,"m":3.6},{"x":0.592,"y":-2.752,"m":4.0},{"x":0.584,"y":-2.793,"m":4.1},{"x":0.572,"y":-2.807,"m":3.0},{"x":0.582,"y":-2.849,"m":3.2},{"x":0.639,"y":-2.78,"m":3.2},{"x":0.635,"y":-2.807,"m":3.1},{"x":0.654,"y":-2.788,"m":4.8},{"x":0.667,"y":-2.813,"m":2.6},{"x":0.678,"y":-2.785,"m":4.6},{"x":0.702,"y":-2.796,"m":5.2},{"x":0.701,"y":-2.807,"m":4.5},{"x":0.754,"y":-2.799,"m":5.1},{"x":0.756,"y":-2.807,"m":6.1},{"x":0.827,"y":-2.849,"m":3.0},{"x":0.549,"y":-2.849,"m":3.6},{"x":0.568,"y":-2.884,"m":4.0},{"x":0.576,"y":-2.917,"m":4.2},{"x":0.6,"y":-2.838,"m":3.5},{"x":0.607,"y":-2.849,"m":3.5},{"x":0.617,"y":-2.849,"m":4.3},{"x":0.631,"y":-2.862,"m":4.2},{"x":0.617,"y":-2.884,"m":3.2},{"x":0.642,"y":-2.884,"m":4.3},{"x":0.635,"y":-2.903,"m":4.4},{"x":0.664,"y":-2.854,"m":4.7},{"x":0.68,"y":-2.829,"m":4.6},{"x":0.694,"y":-2.849,"m":4.4},{"x":0.662,"y":-2.876,"m":4.5},{"x":0.677,"y":-2.898,"m":4.4},{"x":0.657,"y":-2.928,"m":4.4},{"x":0.72,"y":-2.948,"m":5.3},{"x":0.613,"y":-2.931,"m":4.0},{"x":0.64,"y":-2.959,"m":4.6},{"x":0.531,"y":-2.948,"m":3.7},{"x":0.576,"y":-2.959,"m":3.6},{"x":0.568,"y":-2.978,"m":3.5},{"x":0.592,"y":-2.964,"m":3.5},{"x":0.611,"y":-2.959,"m":3.6},{"x":0.519,"y":-3.008,"m":3.2},{"x":0.56,"y":-3.014,"m":3.6},{"x":0.572,"y":-3.014,"m":3.9},{"x":0.588,"y":-3.014,"m":4.1},{"x":0.6,"y":-2.992,"m":4.1},{"x":0.617,"y":-2.992,"m":3.5},{"x":0.593,"y":-2.934,"m":2.2},{"x":0.625,"y":-2.964,"m":2.3},{"x":0.792,"y":-2.986,"m":3.1},{"x":0.652,"y":-3.028,"m":3.3},{"x":0.599,"y":-3.047,"m":3.7},{"x":0.609,"y":-3.055,"m":3.9},{"x":0.623,"y":-3.061,"m":3.2},{"x":0.628,"y":-3.069,"m":4.7},{"x":0.648,"y":-3.077,"m":4.7},{"x":0.687,"y":-3.066,"m":4.2},{"x":0.76,"y":-3.066,"m":5.7},{"x":0.571,"y":-3.091,"m":3.7},{"x":0.582,"y":-3.088,"m":3.4},{"x":0.554,"y":-3.116,"m":4.0},{"x":0.611,"y":-3.116,"m":4.1},{"x":0.644,"y":-3.102,"m":4.7},{"x":0.617,"y":-3.143,"m":3.4},{"x":0.641,"y":-3.138,"m":3.0},{"x":0.671,"y":-3.135,"m":3.1},{"x":0.747,"y":-3.135,"m":5.4},{"x":0.597,"y":-3.157,"m":4.2},{"x":0.568,"y":-3.179,"m":3.8},{"x":0.564,"y":-3.193,"m":3.9},{"x":0.558,"y":-3.215,"m":3.8},{"x":0.617,"y":-3.171,"m":3.6},{"x":0.624,"y":-3.196,"m":4.0},{"x":0.667,"y":-3.163,"m":3.2},{"x":0.687,"y":-3.163,"m":3.3},{"x":0.681,"y":-3.174,"m":4.7},{"x":0.708,"y":-3.196,"m":4.7},{"x":0.684,"y":-3.226,"m":4.6},{"x":0.669,"y":-3.234,"m":5.0},{"x":0.664,"y":-3.248,"m":4.9},{"x":0.777,"y":-3.229,"m":5.9},{"x":0.584,"y":-3.262,"m":3.8},{"x":0.596,"y":-3.256,"m":4.1},{"x":0.588,"y":-3.284,"m":4.0},{"x":0.602,"y":-3.298,"m":3.3},{"x":0.601,"y":-3.284,"m":4.2},{"x":0.681,"y":-3.298,"m":5.0},{"x":0.752,"y":-3.298,"m":3.0},{"x":0.407,"y":-2.427,"m":3.6},{"x":0.411,"y":-2.499,"m":3.7},{"x":0.457,"y":-2.485,"m":3.7},{"x":0.45,"y":-2.518,"m":3.8}],
"giants":[{"x":1.012,"y":0.5,"m":3.3},{"x":1.043,"y":0.344,"m":3.2},{"x":1.036,"y":0.299,"m":3.0},{"x":1.108,"y":0.348,"m":3.1},{"x":1.123,"y":0.287,"m":2.0},{"x":1.096,"y":0.28,"m":2.1},{"x":1.084,"y":0.261,"m":0.7},{"x":1.075,"y":0.261,"m":2.0},{"x":1.092,"y":0.234,"m":2.4},{"x":1.138,"y":0.227,"m":2.1},{"x":1.167,"y":0.242,"m":2.5},{"x":1.214,"y":0.246,"m":1.9},{"x":1.241,"y":0.291,"m":0.5},{"x":0.953,"y":0.25,"m":0.6},{"x":0.988,"y":0.227,"m":2.4},{"x":1.021,"y":0.2,"m":1.5},{"x":1.041,"y":0.227,"m":1.8},{"x":1.037,"y":0.197,"m":3.1},{"x":1.06,"y":0.231,"m":3.0},{"x":1.064,"y":0.178,"m":2.6},{"x":1.056,"y":0.162,"m":3.0},{"x":0.955,"y":0.197,"m":3.2},{"x":0.935,"y":0.178,"m":2.9},{"x":0.921,"y":0.143,"m":3.1},{"x":0.877,"y":0.079,"m":2.8},{"x":0.869,"y":0.064,"m":2.8},{"x":0.863,"y":0.053,"m":2.8},{"x":0.896,"y":-0.031,"m":1.5},{"x":0.932,"y":0.003,"m":2.9},{"x":0.926,"y":-0.031,"m":2.0},{"x":0.943,"y":-0.065,"m":0.4},{"x":0.955,"y":0.06,"m":2.2},{"x":0.969,"y":-0.031,"m":0.5},{"x":0.963,"y":0.117,"m":-0.9},{"x":0.993,"y":0.117,"m":2.9},{"x":0.976,"y":0.041,"m":1.9},{"x":0.991,"y":0.094,"m":2.2},{"x":1.005,"y":0.064,"m":3.0},{"x":1.022,"y":0.102,"m":3.0},{"x":1.032,"y":0.14,"m":-1.0},{"x":1.022,"y":0.064,"m":2.8},{"x":1.032,"y":0.026,"m":0.1},{"x":1.046,"y":0.083,"m":2.4},{"x":1.056,"y":0.094,"m":2.1},{"x":1.07,"y":0.102,"m":2.2},{"x":1.077,"y":0.045,"m":1.6},{"x":1.087,"y":0.083,"m":2.0},{"x":1.1,"y":0.102,"m":2.3},{"x":1.11,"y":0.17,"m":2.1},{"x":1.121,"y":0.185,"m":2.1},{"x":1.131,"y":0.159,"m":2.1},{"x":1.144,"y":0.14,"m":2.2},{"x":1.155,"y":0.197,"m":2.2},{"x":1.165,"y":0.178,"m":2.3},{"x":1.182,"y":0.166,"m":2.1},{"x":1.19,"y":0.14,"m":2.0},{"x":1.207,"y":0.128,"m":0.4},{"x":1.228,"y":0.185,"m":0.6},{"x":1.246,"y":0.31,"m":0.6},{"x":0.984,"y":-0.057,"m":2.2},{"x":0.999,"y":-0.05,"m":2.4},{"x":1.009,"y":-0.072,"m":3.2},{"x":1.016,"y":-0.031,"m":2.5},{"x":1.026,"y":-0.004,"m":2.5},{"x":1.044,"y":-0.042,"m":2.9},{"x":1.055,"y":-0.042,"m":2.4},{"x":1.073,"y":-0.012,"m":3.2},{"x":1.085,"y":-0.012,"m":1.7},{"x":1.108,"y":0.003,"m":2.9},{"x":1.097,"y":0.026,"m":2.5},{"x":1.121,"y":0.083,"m":1.7},{"x":1.131,"y":0.045,"m":1.5},{"x":1.144,"y":0.083,"m":1.1},{"x":1.158,"y":0.064,"m":1.9},{"x":1.171,"y":0.083,"m":1.5},{"x":1.18,"y":0.018,"m":-0.8},{"x":1.195,"y":0.064,"m":0.5},{"x":1.209,"y":0.102,"m":0.6},{"x":1.219,"y":0.045,"m":1.2},{"x":1.232,"y":0.083,"m":0.6},{"x":1.243,"y":0.026,"m":0.5},{"x":0.983,"y":-0.156,"m":1.4},{"x":0.997,"y":-0.137,"m":2.1},{"x":1.012,"y":-0.125,"m":2.7},{"x":1.022,"y":-0.106,"m":2.6},{"x":1.031,"y":-0.106,"m":0.2},{"x":1.029,"y":-0.163,"m":0.2},{"x":1.052,"y":-0.141,"m":3.0},{"x":1.065,"y":-0.182,"m":3.1},{"x":1.058,"y":-0.106,"m":2.3},{"x":1.083,"y":-0.069,"m":-0.7},{"x":1.097,"y":-0.088,"m":1.8},{"x":1.112,"y":-0.08,"m":2.9},{"x":1.124,"y":-0.069,"m":2.1},{"x":1.138,"y":-0.031,"m":1.7},{"x":1.152,"y":-0.072,"m":2.7},{"x":1.165,"y":-0.031,"m":1.8},{"x":1.175,"y":-0.125,"m":0.5},{"x":1.185,"y":-0.106,"m":-0.8},{"x":1.185,"y":-0.144,"m":1.9},{"x":1.201,"y":-0.088,"m":0.5},{"x":1.219,"y":-0.106,"m":0.4},{"x":1.232,"y":-0.106,"m":0.3},{"x":1.239,"y":-0.182,"m":-0.7},{"x":0.951,"y":-0.133,"m":2.2},{"x":0.951,"y":-0.213,"m":2.4},{"x":0.956,"y":-0.194,"m":2.4},{"x":0.914,"y":-0.262,"m":2.7},{"x":1.018,"y":-0.209,"m":3.1},{"x":1.039,"y":-0.213,"m":3.3},{"x":1.019,"y":-0.266,"m":2.0},{"x":0.989,"y":-0.285,"m":3.4},{"x":0.961,"y":-0.315,"m":3.4},{"x":0.979,"y":-0.353,"m":2.7},{"x":0.808,"y":-0.368,"m":2.8},{"x":1.052,"y":-0.315,"m":3.0},{"x":1.058,"y":-0.269,"m":0.4},{"x":1.062,"y":-0.247,"m":3.0},{"x":1.056,"y":-0.307,"m":0.4},{"x":1.094,"y":-0.239,"m":-0.5},{"x":1.104,"y":-0.239,"m":1.4},{"x":1.115,"y":-0.194,"m":1.5},{"x":1.106,"y":-0.152,"m":-0.7},{"x":1.13,"y":-0.269,"m":0.2},{"x":1.09,"y":-0.296,"m":0.3},{"x":1.108,"y":-0.288,"m":2.0},{"x":1.161,"y":-0.239,"m":1.4},{"x":1.178,"y":-0.258,"m":0.5},{"x":1.197,"y":-0.25,"m":0.5},{"x":1.158,"y":-0.277,"m":1.1},{"x":1.188,"y":-0.334,"m":0.5},{"x":1.212,"y":-0.334,"m":0.5},{"x":1.2,"y":-0.372,"m":0.4},{"x":1.231,"y":-0.285,"m":-1.0},{"x":1.239,"y":-0.334,"m":0.4},{"x":1.024,"y":-0.402,"m":2.2},{"x":1.039,"y":-0.372,"m":0.4},{"x":0.98,"y":-0.428,"m":3.2},{"x":0.98,"y":-0.474,"m":3.1},{"x":1.002,"y":-0.447,"m":2.7},{"x":1.01,"y":-0.432,"m":-0.9},{"x":1.075,"y":-0.391,"m":-0.1},{"x":1.092,"y":-0.36,"m":0.4},{"x":1.11,"y":-0.391,"m":0.0},{"x":1.136,"y":-0.402,"m":0.8},{"x":1.146,"y":-0.383,"m":1.5},{"x":1.157,"y":-0.402,"m":0.7},{"x":1.148,"y":-0.447,"m":0.6},{"x":1.166,"y":-0.402,"m":0.6},{"x":1.174,"y":-0.41,"m":0.4},{"x":1.205,"y":-0.447,"m":0.3},{"x":1.215,"y":-0.485,"m":0.1},{"x":1.055,"y":-0.47,"m":2.0},{"x":1.08,"y":-0.455,"m":0.2},{"x":1.073,"y":-0.512,"m":0.2},{"x":1.064,"y":-0.55,"m":0.1},{"x":0.97,"y":-0.516,"m":2.4},{"x":0.989,"y":-0.523,"m":2.2},{"x":1.012,"y":-0.516,"m":0.5},{"x":1.016,"y":-0.553,"m":3.1},{"x":1.033,"y":-0.542,"m":-0.5},{"x":1.045,"y":-0.542,"m":0.2},{"x":1.09,"y":-0.553,"m":0.3},{"x":1.104,"y":-0.588,"m":0.6},{"x":1.152,"y":-0.572,"m":0.9},{"x":1.166,"y":-0.531,"m":0.2},{"x":1.178,"y":-0.516,"m":0.3},{"x":1.204,"y":-0.565,"m":1.0},{"x":1.239,"y":-0.599,"m":0.7},{"x":0.93,"y":-0.61,"m":2.5},{"x":1.0,"y":-0.663,"m":0.7},{"x":0.91,"y":-0.701,"m":0.5},{"x":1.022,"y":-0.694,"m":0.5},{"x":1.045,"y":-0.667,"m":0.5},{"x":1.045,"y":-0.713,"m":1.0},{"x":0.987,"y":-0.743,"m":0.5},{"x":1.075,"y":-0.705,"m":0.3},{"x":1.108,"y":-0.69,"m":0.1},{"x":1.14,"y":-0.675,"m":1.1},{"x":1.178,"y":-0.694,"m":0.1},{"x":1.197,"y":-0.694,"m":0.0},{"x":1.188,"y":-0.75,"m":0.4},{"x":1.212,"y":-0.762,"m":-0.5},{"x":0.944,"y":-0.732,"m":2.9},{"x":0.942,"y":-0.815,"m":3.3},{"x":0.939,"y":-0.845,"m":3.1},{"x":0.958,"y":-0.788,"m":3.3},{"x":0.98,"y":-0.777,"m":3.0},{"x":0.987,"y":-0.807,"m":2.9},{"x":0.978,"y":-0.826,"m":2.9},{"x":0.965,"y":-0.853,"m":2.9},{"x":0.975,"y":-0.883,"m":2.5},{"x":0.984,"y":-0.963,"m":2.7},{"x":0.994,"y":-0.864,"m":2.0},{"x":0.997,"y":-0.921,"m":1.8},{"x":0.878,"y":-0.834,"m":2.6},{"x":0.892,"y":-0.834,"m":1.7},{"x":0.891,"y":-0.89,"m":0.7},{"x":0.797,"y":-0.83,"m":2.7},{"x":0.783,"y":-0.978,"m":2.6},{"x":0.896,"y":-0.97,"m":3.1},{"x":0.909,"y":-0.955,"m":3.0},{"x":0.917,"y":-0.951,"m":-3.5},{"x":0.917,"y":-1.0,"m":0.4},{"x":0.894,"y":-1.035,"m":0.4},{"x":0.936,"y":-0.94,"m":0.4},{"x":0.935,"y":-1.0,"m":0.6},{"x":0.953,"y":-0.951,"m":0.6},{"x":0.967,"y":-0.94,"m":0.4},{"x":0.961,"y":-1.035,"m":0.3},{"x":0.938,"y":-1.088,"m":2.4},{"x":0.929,"y":-1.103,"m":0.6},{"x":1.014,"y":-0.77,"m":2.4},{"x":1.026,"y":-0.8,"m":2.1},{"x":1.037,"y":-0.8,"m":2.0},{"x":1.051,"y":-0.807,"m":0.3},{"x":1.017,"y":-0.864,"m":0.4},{"x":1.037,"y":-0.891,"m":0.3},{"x":1.014,"y":-0.944,"m":1.6},{"x":1.022,"y":-0.936,"m":1.6},{"x":1.066,"y":-0.853,"m":-0.7},{"x":1.08,"y":-0.838,"m":1.6},{"x":1.09,"y":-0.807,"m":1.3},{"x":1.097,"y":-0.815,"m":1.3},{"x":1.108,"y":-0.792,"m":1.1},{"x":1.108,"y":-0.86,"m":1.1},{"x":1.138,"y":-0.796,"m":1.7},{"x":1.136,"y":-0.959,"m":1.2},{"x":1.174,"y":-0.86,"m":2.6},{"x":1.168,"y":-0.891,"m":0.1},{"x":1.185,"y":-0.887,"m":0.1},{"x":1.066,"y":-0.932,"m":1.1},{"x":1.061,"y":-0.982,"m":0.3},{"x":1.043,"y":-1.0,"m":1.7},{"x":1.047,"y":-1.046,"m":1.7},{"x":1.073,"y":-1.095,"m":0.5},{"x":1.052,"y":-1.148,"m":0.6},{"x":1.17,"y":-1.118,"m":-0.9},{"x":1.1,"y":-1.209,"m":2.8},{"x":1.105,"y":-1.212,"m":-0.3},{"x":1.012,"y":-1.141,"m":3.4},{"x":1.022,"y":-1.141,"m":0.9},{"x":1.004,"y":-1.099,"m":1.7},{"x":0.99,"y":-1.137,"m":1.4},{"x":0.959,"y":-1.046,"m":2.2},{"x":0.965,"y":-1.035,"m":0.5},{"x":0.959,"y":-1.137,"m":2.0},{"x":0.873,"y":-1.118,"m":0.6},{"x":0.814,"y":-1.156,"m":0.6},{"x":0.956,"y":-1.205,"m":1.8},{"x":1.234,"y":-1.156,"m":-1.1},{"x":1.243,"y":-1.156,"m":-1.1},{"x":1.203,"y":-1.243,"m":-0.9},{"x":0.916,"y":-1.235,"m":2.8},{"x":0.994,"y":-1.216,"m":1.5},{"x":1.052,"y":-1.243,"m":2.0},{"x":1.123,"y":-1.243,"m":1.5},{"x":1.185,"y":-0.012,"m":1.5},{"x":1.202,"y":-0.012,"m":0.6},{"x":1.215,"y":-0.012,"m":0.7},{"x":1.226,"y":-0.069,"m":0.5},{"x":1.168,"y":-0.05,"m":0.6},{"x":1.148,"y":-0.012,"m":0.7},{"x":1.134,"y":-0.031,"m":1.7},{"x":1.178,"y":-0.182,"m":0.5},{"x":1.192,"y":-0.182,"m":0.5},{"x":1.158,"y":-0.144,"m":0.6},{"x":1.144,"y":-0.125,"m":0.6},{"x":1.168,"y":-0.182,"m":0.6},{"x":1.219,"y":-0.182,"m":0.5},{"x":1.205,"y":-0.239,"m":0.5},{"x":1.229,"y":-0.239,"m":-0.6},{"x":1.244,"y":0.322,"m":0.5},{"x":1.237,"y":0.28,"m":0.5},{"x":1.317,"y":0.31,"m":0.4},{"x":1.339,"y":0.253,"m":0.8},{"x":1.268,"y":0.223,"m":0.5},{"x":1.283,"y":0.215,"m":0.6},{"x":1.277,"y":0.197,"m":0.4},{"x":1.294,"y":0.178,"m":-0.7},{"x":1.366,"y":0.14,"m":0.3},{"x":1.406,"y":0.185,"m":0.5},{"x":1.429,"y":0.2,"m":-2.1},{"x":1.447,"y":0.14,"m":1.0},{"x":1.572,"y":0.17,"m":0.5},{"x":1.227,"y":0.185,"m":0.5},{"x":1.248,"y":0.178,"m":0.4},{"x":1.215,"y":0.14,"m":1.6},{"x":1.238,"y":0.147,"m":1.6},{"x":1.269,"y":0.117,"m":1.7},{"x":1.296,"y":0.117,"m":1.9},{"x":1.317,"y":0.102,"m":0.2},{"x":1.259,"y":0.109,"m":0.5},{"x":1.208,"y":0.102,"m":0.7},{"x":1.215,"y":0.064,"m":1.2},{"x":1.235,"y":0.045,"m":1.0},{"x":1.229,"y":0.045,"m":0.7},{"x":1.265,"y":0.026,"m":0.3},{"x":1.276,"y":0.018,"m":0.1},{"x":1.31,"y":0.037,"m":-0.9},{"x":1.324,"y":0.003,"m":0.0},{"x":1.357,"y":0.037,"m":-0.7},{"x":1.366,"y":0.003,"m":0.2},{"x":1.376,"y":-0.012,"m":-1.0},{"x":1.387,"y":0.064,"m":0.2},{"x":1.389,"y":0.056,"m":-1.1},{"x":1.414,"y":0.064,"m":0.3},{"x":1.44,"y":0.053,"m":0.2},{"x":1.448,"y":0.026,"m":0.3},{"x":1.476,"y":0.075,"m":-1.0},{"x":1.477,"y":0.072,"m":0.3},{"x":1.495,"y":0.079,"m":0.2},{"x":1.509,"y":0.003,"m":-0.8},{"x":1.59,"y":0.064,"m":0.1},{"x":1.579,"y":0.015,"m":0.1},{"x":1.583,"y":-0.004,"m":-1.5},{"x":1.576,"y":-0.031,"m":-0.9},{"x":1.534,"y":-0.057,"m":-0.9},{"x":1.544,"y":-0.106,"m":-1.1},{"x":1.304,"y":-0.019,"m":0.5},{"x":1.273,"y":-0.038,"m":-1.1},{"x":1.273,"y":-0.061,"m":1.2},{"x":1.242,"y":-0.069,"m":0.3},{"x":1.246,"y":-0.088,"m":1.6},{"x":1.353,"y":-0.012,"m":-0.9},{"x":1.357,"y":-0.061,"m":-0.8},{"x":1.376,"y":-0.088,"m":0.2},{"x":1.412,"y":-0.042,"m":-0.7},{"x":1.418,"y":-0.069,"m":-0.8},{"x":1.431,"y":-0.103,"m":-0.6},{"x":1.361,"y":-0.125,"m":-1.8},{"x":1.368,"y":-0.118,"m":0.1},{"x":1.371,"y":-0.106,"m":0.2},{"x":1.328,"y":-0.106,"m":0.0},{"x":1.334,"y":-0.088,"m":-0.2},{"x":1.343,"y":-0.08,"m":0.0},{"x":1.341,"y":-0.133,"m":-0.4},{"x":1.331,"y":-0.133,"m":0.1},{"x":1.3,"y":-0.125,"m":0.3},{"x":1.285,"y":-0.137,"m":0.5},{"x":1.309,"y":-0.178,"m":-0.8},{"x":1.219,"y":-0.11,"m":0.5},{"x":1.225,"y":-0.118,"m":0.7},{"x":1.235,"y":-0.118,"m":1.3},{"x":1.233,"y":-0.171,"m":-0.9},{"x":1.237,"y":-0.186,"m":-0.6},{"x":1.225,"y":-0.201,"m":0.6},{"x":1.399,"y":-0.141,"m":-0.5},{"x":1.406,"y":-0.125,"m":-0.6},{"x":1.418,"y":-0.133,"m":-0.6},{"x":1.449,"y":-0.156,"m":-1.0},{"x":1.466,"y":-0.144,"m":-1.0},{"x":1.473,"y":-0.118,"m":-1.2},{"x":1.481,"y":-0.133,"m":0.2},{"x":1.492,"y":-0.194,"m":0.0},{"x":1.496,"y":-0.137,"m":-1.4},{"x":1.496,"y":-0.08,"m":0.2},{"x":1.516,"y":-0.152,"m":-1.0},{"x":1.518,"y":-0.167,"m":-2.4},{"x":1.529,"y":-0.258,"m":-0.9},{"x":1.536,"y":-0.209,"m":-2.0},{"x":1.544,"y":-0.213,"m":-1.4},{"x":1.555,"y":-0.288,"m":-1.1},{"x":1.566,"y":-0.304,"m":-1.1},{"x":1.575,"y":-0.239,"m":-1.3},{"x":1.579,"y":-0.266,"m":-1.3},{"x":1.586,"y":-0.163,"m":-1.0},{"x":1.594,"y":-0.133,"m":-0.9},{"x":1.595,"y":-0.171,"m":-2.4},{"x":1.593,"y":-0.235,"m":-2.1},{"x":1.589,"y":-0.334,"m":-2.2},{"x":1.5,"y":-0.262,"m":1.4},{"x":1.471,"y":-0.231,"m":-0.5},{"x":1.456,"y":-0.277,"m":-0.6},{"x":1.404,"y":-0.239,"m":-1.0},{"x":1.364,"y":-0.171,"m":0.2},{"x":1.374,"y":-0.156,"m":-0.7},{"x":1.368,"y":-0.269,"m":0.0},{"x":1.371,"y":-0.315,"m":0.1},{"x":1.231,"y":-0.228,"m":1.3},{"x":1.232,"y":-0.307,"m":1.8},{"x":1.251,"y":-0.258,"m":1.7},{"x":1.257,"y":-0.247,"m":-0.3},{"x":1.27,"y":-0.269,"m":0.4},{"x":1.282,"y":-0.322,"m":0.6},{"x":1.303,"y":-0.36,"m":-0.9},{"x":1.263,"y":-0.372,"m":0.5},{"x":1.281,"y":-0.402,"m":0.5},{"x":1.296,"y":-0.428,"m":-1.1},{"x":1.241,"y":-0.36,"m":0.5},{"x":1.208,"y":-0.334,"m":0.8},{"x":1.213,"y":-0.345,"m":0.6},{"x":1.219,"y":-0.372,"m":1.2},{"x":1.404,"y":-0.36,"m":-0.2},{"x":1.356,"y":-0.41,"m":-0.2},{"x":1.358,"y":-0.44,"m":0.0},{"x":1.379,"y":-0.402,"m":-0.3},{"x":1.456,"y":-0.417,"m":-0.1},{"x":1.48,"y":-0.406,"m":-0.7},{"x":1.483,"y":-0.466,"m":-1.5},{"x":1.476,"y":-0.482,"m":-0.9},{"x":1.515,"y":-0.349,"m":-0.8},{"x":1.566,"y":-0.383,"m":-1.5},{"x":1.574,"y":-0.383,"m":-1.7},{"x":1.569,"y":-0.417,"m":-0.1},{"x":1.586,"y":-0.417,"m":-1.1},{"x":1.584,"y":-0.455,"m":-1.0},{"x":1.605,"y":-0.436,"m":-1.1},{"x":1.566,"y":-0.565,"m":-1.0},{"x":1.246,"y":-0.459,"m":0.3},{"x":1.215,"y":-0.485,"m":-0.1},{"x":1.399,"y":-0.512,"m":0.3},{"x":1.337,"y":-0.637,"m":-0.3},{"x":1.283,"y":-0.682,"m":-0.1},{"x":1.398,"y":-0.716,"m":-0.5},{"x":1.425,"y":-0.739,"m":-1.7},{"x":1.317,"y":-0.75,"m":-0.3},{"x":1.284,"y":-0.75,"m":3.1},{"x":1.374,"y":-0.8,"m":-0.4},{"x":1.341,"y":-0.815,"m":-0.7},{"x":1.253,"y":-0.815,"m":0.0},{"x":1.251,"y":-0.921,"m":-0.5},{"x":1.261,"y":-1.012,"m":3.8},{"x":1.306,"y":-1.016,"m":-2.2},{"x":1.354,"y":-1.103,"m":-0.9},{"x":1.387,"y":-1.137,"m":-1.0},{"x":1.233,"y":-1.156,"m":-1.2},{"x":1.267,"y":-1.216,"m":-1.2},{"x":1.489,"y":-1.213,"m":-1.9},{"x":1.547,"y":-1.213,"m":-2.3},{"x":0.776,"y":-0.883,"m":2.5},{"x":0.798,"y":-0.834,"m":2.7},{"x":0.783,"y":-0.977,"m":2.6},{"x":0.739,"y":-1.065,"m":2.7},{"x":0.813,"y":-1.155,"m":0.5},{"x":0.808,"y":-1.262,"m":1.9},{"x":0.789,"y":-1.296,"m":3.0},{"x":0.637,"y":-1.432,"m":-1.5},{"x":0.938,"y":-1.091,"m":2.5},{"x":0.93,"y":-1.095,"m":0.5},{"x":0.928,"y":-1.148,"m":1.9},{"x":0.867,"y":-1.341,"m":3.0},{"x":0.878,"y":-1.288,"m":0.5},{"x":0.89,"y":-1.333,"m":2.8},{"x":0.904,"y":-1.284,"m":3.0},{"x":0.915,"y":-1.239,"m":3.0},{"x":0.907,"y":-1.356,"m":0.1},{"x":0.88,"y":-1.387,"m":2.0},{"x":0.862,"y":-1.436,"m":2.3},{"x":0.867,"y":-1.493,"m":3.0},{"x":0.917,"y":-1.413,"m":2.5},{"x":0.914,"y":-1.451,"m":0.5},{"x":0.936,"y":-1.345,"m":2.2},{"x":0.941,"y":-1.318,"m":1.9},{"x":0.957,"y":-1.364,"m":2.2},{"x":0.956,"y":-1.205,"m":1.9},{"x":0.96,"y":-1.129,"m":2.2},{"x":0.966,"y":-1.148,"m":2.2},{"x":0.97,"y":-1.262,"m":1.9},{"x":0.981,"y":-1.243,"m":1.6},{"x":0.993,"y":-1.224,"m":1.5},{"x":1.004,"y":-1.091,"m":2.1},{"x":1.022,"y":-1.102,"m":2.0},{"x":1.013,"y":-1.14,"m":3.4},{"x":1.024,"y":-1.148,"m":1.6},{"x":1.053,"y":-1.243,"m":0.4},{"x":1.075,"y":-1.091,"m":0.5},{"x":1.014,"y":-1.269,"m":1.1},{"x":1.002,"y":-1.337,"m":1.5},{"x":1.009,"y":-1.345,"m":1.2},{"x":1.019,"y":-1.368,"m":1.2},{"x":1.031,"y":-1.326,"m":0.9},{"x":1.024,"y":-1.42,"m":1.0},{"x":0.968,"y":-1.375,"m":1.5},{"x":0.975,"y":-1.44,"m":1.3},{"x":0.963,"y":-1.451,"m":0.0},{"x":0.99,"y":-1.496,"m":0.1},{"x":1.001,"y":-1.47,"m":1.0},{"x":1.012,"y":-1.47,"m":1.1},{"x":1.016,"y":-1.538,"m":1.3},{"x":0.951,"y":-1.489,"m":1.7},{"x":0.941,"y":-1.519,"m":1.7},{"x":0.919,"y":-1.519,"m":1.9},{"x":0.93,"y":-1.527,"m":1.8},{"x":0.961,"y":-1.508,"m":1.8},{"x":0.907,"y":-1.549,"m":2.5},{"x":0.976,"y":-1.519,"m":1.8},{"x":0.935,"y":-1.565,"m":0.1},{"x":0.949,"y":-1.565,"m":1.7},{"x":0.958,"y":-1.602,"m":1.4},{"x":0.975,"y":-1.584,"m":0.0},{"x":0.981,"y":-1.591,"m":1.0},{"x":1.0,"y":-1.618,"m":0.6},{"x":1.018,"y":-1.602,"m":0.3},{"x":1.034,"y":-1.621,"m":0.6},{"x":0.867,"y":-1.602,"m":2.9},{"x":0.876,"y":-1.633,"m":-3.3},{"x":0.881,"y":-1.599,"m":2.3},{"x":0.865,"y":-1.671,"m":-0.2},{"x":0.896,"y":-1.648,"m":2.5},{"x":0.963,"y":-1.671,"m":-0.4},{"x":0.978,"y":-1.72,"m":0.5},{"x":0.961,"y":-1.739,"m":-0.1},{"x":1.016,"y":-1.682,"m":0.5},{"x":1.024,"y":-1.682,"m":0.2},{"x":1.04,"y":-1.731,"m":-1.2},{"x":1.048,"y":-1.671,"m":-0.2},{"x":1.048,"y":-1.773,"m":-0.2},{"x":0.935,"y":-1.731,"m":0.8},{"x":0.932,"y":-1.773,"m":1.7},{"x":1.014,"y":-1.792,"m":0.2},{"x":1.02,"y":-1.807,"m":-0.7},{"x":1.062,"y":-1.807,"m":-0.7},{"x":1.088,"y":-1.69,"m":-1.5},{"x":1.079,"y":-1.557,"m":-0.4},{"x":1.075,"y":-1.42,"m":-0.7},{"x":1.081,"y":-1.413,"m":-0.4},{"x":1.096,"y":-1.402,"m":-0.1},{"x":1.061,"y":-1.508,"m":0.7},{"x":1.049,"y":-1.508,"m":0.8},{"x":1.043,"y":-1.534,"m":0.6},{"x":1.089,"y":-1.815,"m":-1.6},{"x":1.09,"y":-1.845,"m":-1.3},{"x":0.705,"y":-1.678,"m":0.6},{"x":0.598,"y":-1.871,"m":1.0},{"x":0.706,"y":-1.852,"m":-0.3},{"x":0.655,"y":-2.011,"m":-0.6},{"x":0.594,"y":-2.114,"m":-0.9},{"x":0.716,"y":-2.159,"m":0.4},{"x":0.789,"y":-2.205,"m":0.4},{"x":0.789,"y":-2.243,"m":1.1},{"x":0.789,"y":-2.303,"m":2.6},{"x":0.791,"y":-2.318,"m":0.5},{"x":0.776,"y":-2.33,"m":0.7},{"x":0.789,"y":-2.402,"m":3.0},{"x":0.718,"y":-2.368,"m":2.5},{"x":0.793,"y":-2.47,"m":0.3},{"x":0.801,"y":-2.542,"m":0.2},{"x":0.762,"y":-2.512,"m":0.2},{"x":0.772,"y":-2.519,"m":3.1},{"x":0.76,"y":-2.621,"m":0.7},{"x":0.655,"y":-2.523,"m":0.6},{"x":0.677,"y":-2.542,"m":0.5},{"x":0.61,"y":-2.591,"m":0.3},{"x":0.671,"y":-2.625,"m":0.4},{"x":0.694,"y":-2.659,"m":0.4},{"x":0.706,"y":-2.64,"m":1.4},{"x":0.709,"y":-2.678,"m":-0.5},{"x":0.642,"y":-2.701,"m":0.3},{"x":0.793,"y":-2.69,"m":1.9},{"x":0.782,"y":-2.72,"m":0.5},{"x":0.854,"y":-1.89,"m":2.1},{"x":0.868,"y":-1.792,"m":2.9},{"x":0.876,"y":-1.871,"m":2.7},{"x":0.894,"y":-1.849,"m":2.8},{"x":0.913,"y":-1.818,"m":2.2},{"x":0.926,"y":-1.83,"m":1.8},{"x":0.929,"y":-1.898,"m":0.1},{"x":0.959,"y":-1.928,"m":0.2},{"x":0.957,"y":-1.981,"m":0.1},{"x":0.943,"y":-1.981,"m":0.5},{"x":0.898,"y":-2.0,"m":2.1},{"x":0.914,"y":-1.97,"m":1.3},{"x":0.916,"y":-2.038,"m":2.0},{"x":0.904,"y":-2.099,"m":1.5},{"x":0.93,"y":-2.087,"m":1.1},{"x":0.988,"y":-1.894,"m":0.5},{"x":0.994,"y":-1.924,"m":0.5},{"x":1.002,"y":-1.92,"m":0.1},{"x":1.014,"y":-1.913,"m":0.1},{"x":1.0,"y":-1.989,"m":0.3},{"x":0.997,"y":-2.095,"m":-0.5},{"x":1.033,"y":-2.038,"m":-0.4},{"x":1.044,"y":-2.076,"m":-0.2},{"x":1.052,"y":-2.0,"m":0.0},{"x":1.064,"y":-1.894,"m":-0.3},{"x":1.072,"y":-1.936,"m":-1.9},{"x":1.081,"y":-1.981,"m":-0.3},{"x":1.098,"y":-1.993,"m":0.0},{"x":1.029,"y":-2.095,"m":0.1},{"x":1.04,"y":-2.095,"m":0.0},{"x":1.049,"y":-2.114,"m":0.1},{"x":1.066,"y":-2.087,"m":-0.5},{"x":1.073,"y":-2.099,"m":-1.2},{"x":1.087,"y":-2.087,"m":-0.8},{"x":1.102,"y":-2.095,"m":-0.7},{"x":1.053,"y":-2.171,"m":0.1},{"x":0.984,"y":-2.193,"m":0.1},{"x":1.0,"y":-2.201,"m":0.5},{"x":1.011,"y":-2.193,"m":0.1},{"x":1.021,"y":-2.193,"m":-0.3},{"x":1.034,"y":-2.201,"m":-1.0},{"x":1.089,"y":-2.208,"m":-0.7},{"x":1.082,"y":-2.231,"m":-0.9},{"x":1.056,"y":-2.269,"m":-0.7},{"x":1.073,"y":-2.269,"m":-0.7},{"x":0.959,"y":-2.182,"m":0.4},{"x":0.961,"y":-2.19,"m":0.2},{"x":0.941,"y":-2.216,"m":2.1},{"x":0.86,"y":-2.186,"m":1.6},{"x":0.875,"y":-2.209,"m":2.4},{"x":0.931,"y":-2.262,"m":-0.5},{"x":0.938,"y":-2.265,"m":0.1},{"x":0.961,"y":-2.296,"m":0.2},{"x":0.976,"y":-2.288,"m":-0.4},{"x":0.961,"y":-2.341,"m":1.5},{"x":0.951,"y":-2.36,"m":1.2},{"x":0.941,"y":-2.379,"m":0.7},{"x":0.914,"y":-2.36,"m":1.5},{"x":0.844,"y":-2.349,"m":3.0},{"x":0.855,"y":-2.349,"m":2.5},{"x":1.026,"y":-2.322,"m":2.0},{"x":1.045,"y":-2.315,"m":0.0},{"x":1.058,"y":-2.36,"m":-0.2},{"x":1.044,"y":-2.368,"m":-0.1},{"x":0.981,"y":-2.413,"m":0.0},{"x":1.078,"y":-2.42,"m":-0.5},{"x":1.09,"y":-2.417,"m":-0.9},{"x":1.085,"y":-2.436,"m":-0.9},{"x":1.055,"y":-2.402,"m":-0.1},{"x":1.054,"y":-2.493,"m":-0.4},{"x":1.08,"y":-2.481,"m":-0.2},{"x":1.097,"y":-2.511,"m":-0.1},{"x":1.009,"y":-2.481,"m":0.0},{"x":1.013,"y":-2.493,"m":-0.2},{"x":0.882,"y":-2.447,"m":2.0},{"x":0.896,"y":-2.459,"m":2.2},{"x":0.837,"y":-2.477,"m":2.2},{"x":0.887,"y":-2.493,"m":1.9},{"x":0.886,"y":-2.542,"m":2.2},{"x":0.888,"y":-2.587,"m":2.0},{"x":0.861,"y":-2.534,"m":0.0},{"x":0.83,"y":-2.621,"m":2.8},{"x":0.854,"y":-2.61,"m":2.2},{"x":0.869,"y":-2.61,"m":0.3},{"x":0.848,"y":-2.667,"m":2.2},{"x":0.835,"y":-2.72,"m":2.5},{"x":0.928,"y":-2.519,"m":-0.2},{"x":0.938,"y":-2.534,"m":1.0},{"x":0.949,"y":-2.561,"m":1.2},{"x":0.913,"y":-2.561,"m":1.5},{"x":0.916,"y":-2.606,"m":1.6},{"x":0.93,"y":-2.606,"m":1.8},{"x":0.974,"y":-2.599,"m":2.6},{"x":0.984,"y":-2.568,"m":0.5},{"x":1.01,"y":-2.553,"m":1.2},{"x":1.014,"y":-2.614,"m":-0.9},{"x":1.031,"y":-2.576,"m":0.1},{"x":1.041,"y":-2.576,"m":-0.8},{"x":1.022,"y":-2.606,"m":-0.9},{"x":1.073,"y":-2.652,"m":-0.7},{"x":1.039,"y":-2.663,"m":-1.1},{"x":1.047,"y":-2.663,"m":-1.1},{"x":1.09,"y":-2.682,"m":-0.8},{"x":1.098,"y":-2.644,"m":-1.2},{"x":0.924,"y":-2.69,"m":1.8},{"x":0.905,"y":-2.69,"m":1.1},{"x":0.97,"y":-2.69,"m":0.1},{"x":1.173,"y":-0.86,"m":2.6},{"x":1.17,"y":-0.902,"m":0.4},{"x":1.136,"y":-0.955,"m":1.1},{"x":1.108,"y":-0.856,"m":1.2},{"x":1.169,"y":-1.118,"m":-0.7},{"x":1.48,"y":-0.868,"m":-1.4},{"x":1.49,"y":-0.924,"m":-1.5},{"x":1.488,"y":-1.212,"m":-1.7},{"x":1.122,"y":-1.258,"m":1.8},{"x":1.202,"y":-1.258,"m":-0.6},{"x":1.123,"y":-1.364,"m":0.2},{"x":1.339,"y":-1.322,"m":-1.2},{"x":1.36,"y":-1.398,"m":-2.0},{"x":1.444,"y":-1.394,"m":-2.3},{"x":1.459,"y":-1.436,"m":-2.4},{"x":1.241,"y":-1.42,"m":-0.2},{"x":1.253,"y":-1.443,"m":-0.6},{"x":1.289,"y":-1.417,"m":-1.2},{"x":1.173,"y":-1.47,"m":-0.3},{"x":1.201,"y":-1.523,"m":-1.1},{"x":1.178,"y":-1.546,"m":-0.1},{"x":1.337,"y":-1.53,"m":-2.3},{"x":1.442,"y":-1.519,"m":-2.4},{"x":1.454,"y":-1.576,"m":-2.5},{"x":1.412,"y":-1.621,"m":-2.2},{"x":1.131,"y":-1.542,"m":-0.1},{"x":1.138,"y":-1.583,"m":0.0},{"x":1.15,"y":-1.561,"m":0.1},{"x":1.146,"y":-1.583,"m":-1.0},{"x":1.158,"y":-1.602,"m":0.2},{"x":1.182,"y":-1.595,"m":-0.1},{"x":1.19,"y":-1.602,"m":-1.5},{"x":1.285,"y":-1.58,"m":-1.1},{"x":1.129,"y":-1.633,"m":-0.8},{"x":1.13,"y":-1.671,"m":-1.1},{"x":1.195,"y":-1.655,"m":-1.1},{"x":1.202,"y":-1.671,"m":-0.9},{"x":1.234,"y":-1.682,"m":-1.9},{"x":1.257,"y":-1.69,"m":-2.0},{"x":1.35,"y":-1.674,"m":-1.7},{"x":1.535,"y":-1.716,"m":-2.4},{"x":1.559,"y":-1.773,"m":-2.5},{"x":1.138,"y":-1.716,"m":-0.3},{"x":1.148,"y":-1.705,"m":-0.9},{"x":1.153,"y":-1.746,"m":-0.3},{"x":1.171,"y":-1.716,"m":-0.7},{"x":1.198,"y":-1.746,"m":-1.7},{"x":1.287,"y":-1.746,"m":-1.7},{"x":1.121,"y":-1.788,"m":-0.2},{"x":1.144,"y":-1.83,"m":-1.0},{"x":1.158,"y":-1.818,"m":-1.4},{"x":1.172,"y":-1.837,"m":-2.2},{"x":1.202,"y":-1.799,"m":-1.2},{"x":1.193,"y":-1.818,"m":-1.1},{"x":1.26,"y":-1.788,"m":-1.4},{"x":1.278,"y":-1.834,"m":-1.4},{"x":1.308,"y":-1.784,"m":-1.6},{"x":1.318,"y":-1.849,"m":-1.9},{"x":1.36,"y":-1.784,"m":-1.9},{"x":1.374,"y":-1.803,"m":-1.9},{"x":1.189,"y":-1.887,"m":-0.8},{"x":1.239,"y":-1.871,"m":-1.3},{"x":1.348,"y":-1.868,"m":-1.8},{"x":1.463,"y":-1.898,"m":-2.4},{"x":1.527,"y":-1.924,"m":-2.7},{"x":1.559,"y":-1.947,"m":-2.7},{"x":1.158,"y":-1.905,"m":-0.4},{"x":1.154,"y":-1.928,"m":-1.0},{"x":1.289,"y":-1.943,"m":-1.5},{"x":1.402,"y":-1.97,"m":-2.4},{"x":1.399,"y":-2.031,"m":-2.5},{"x":1.438,"y":-2.061,"m":-2.4},{"x":1.337,"y":-2.061,"m":-0.3},{"x":1.136,"y":-1.993,"m":0.6},{"x":1.099,"y":-1.996,"m":-0.4},{"x":1.119,"y":-2.031,"m":-0.5},{"x":1.124,"y":-2.031,"m":-0.3},{"x":1.141,"y":-2.049,"m":-0.5},{"x":1.157,"y":-2.031,"m":-1.5},{"x":1.222,"y":-2.027,"m":-1.3},{"x":1.225,"y":-2.034,"m":-1.3},{"x":1.204,"y":-2.099,"m":-1.6},{"x":1.188,"y":-2.11,"m":-1.0},{"x":1.107,"y":-2.095,"m":-0.3},{"x":1.127,"y":-2.167,"m":-1.3},{"x":1.241,"y":-2.19,"m":-1.6},{"x":1.262,"y":-2.201,"m":-1.3},{"x":1.316,"y":-2.212,"m":-1.7},{"x":1.358,"y":-2.163,"m":-2.2},{"x":1.416,"y":-2.137,"m":-2.9},{"x":1.445,"y":-2.171,"m":-2.3},{"x":1.541,"y":-2.231,"m":-2.9},{"x":1.197,"y":-2.239,"m":-2.1},{"x":1.222,"y":-2.246,"m":-1.5},{"x":1.323,"y":-2.296,"m":-2.3},{"x":1.184,"y":-2.299,"m":-1.3},{"x":1.148,"y":-2.28,"m":0.3},{"x":1.132,"y":-2.318,"m":-1.4},{"x":1.188,"y":-2.375,"m":-1.4},{"x":1.126,"y":-2.371,"m":-1.2},{"x":1.115,"y":-2.398,"m":-1.0},{"x":1.371,"y":-2.383,"m":-2.8},{"x":1.43,"y":-2.39,"m":-2.9},{"x":1.482,"y":-2.44,"m":-2.7},{"x":1.311,"y":-2.428,"m":-2.2},{"x":1.253,"y":-2.42,"m":0.3},{"x":1.112,"y":-2.443,"m":-0.1},{"x":1.184,"y":-2.451,"m":-1.2},{"x":1.245,"y":-2.477,"m":-1.1},{"x":1.27,"y":-2.477,"m":-1.7},{"x":1.291,"y":-2.5,"m":-1.8},{"x":1.194,"y":-2.519,"m":-1.5},{"x":1.413,"y":-2.549,"m":-1.4},{"x":1.551,"y":-2.599,"m":-2.9},{"x":1.147,"y":-2.584,"m":-1.1},{"x":1.275,"y":-2.584,"m":-1.8},{"x":1.232,"y":-2.64,"m":-1.6},{"x":1.113,"y":-2.701,"m":-1.9},{"x":1.114,"y":-2.644,"m":-0.4},{"x":1.222,"y":-2.739,"m":-2.2},{"x":0.628,"y":-2.758,"m":0.5},{"x":0.657,"y":-2.761,"m":2.5},{"x":0.635,"y":-2.902,"m":0.5},{"x":0.654,"y":-2.939,"m":0.5},{"x":0.747,"y":-2.86,"m":2.6},{"x":0.773,"y":-2.852,"m":0.0},{"x":0.809,"y":-2.83,"m":0.5},{"x":0.83,"y":-2.928,"m":2.7},{"x":0.835,"y":-2.72,"m":2.9},{"x":0.849,"y":-2.818,"m":3.1},{"x":0.848,"y":-2.67,"m":2.0},{"x":0.871,"y":-2.769,"m":2.2},{"x":0.878,"y":-2.837,"m":2.1},{"x":0.888,"y":-2.86,"m":0.2},{"x":0.884,"y":-2.89,"m":1.2},{"x":0.896,"y":-2.928,"m":1.7},{"x":0.906,"y":-2.86,"m":1.1},{"x":0.914,"y":-2.89,"m":1.4},{"x":0.923,"y":-2.852,"m":2.0},{"x":0.924,"y":-2.871,"m":0.8},{"x":0.94,"y":-2.898,"m":1.7},{"x":0.948,"y":-2.871,"m":0.9},{"x":0.959,"y":-2.879,"m":0.4},{"x":0.965,"y":-2.852,"m":0.6},{"x":0.95,"y":-2.951,"m":0.5},{"x":0.967,"y":-2.97,"m":0.4},{"x":0.888,"y":-2.97,"m":1.7},{"x":0.812,"y":-2.996,"m":2.6},{"x":0.81,"y":-3.027,"m":2.7},{"x":0.873,"y":-3.008,"m":2.3},{"x":0.9,"y":-3.023,"m":1.1},{"x":0.906,"y":-3.034,"m":0.9},{"x":0.93,"y":-3.011,"m":0.9},{"x":0.97,"y":-3.061,"m":0.4},{"x":0.628,"y":-3.102,"m":2.6},{"x":0.609,"y":-3.151,"m":0.0},{"x":0.613,"y":-3.159,"m":0.0},{"x":0.73,"y":-3.098,"m":-0.2},{"x":0.797,"y":-3.102,"m":0.3},{"x":0.81,"y":-3.14,"m":0.2},{"x":0.852,"y":-3.08,"m":2.0},{"x":0.858,"y":-3.117,"m":2.0},{"x":0.869,"y":-3.102,"m":2.1},{"x":0.889,"y":-3.072,"m":1.2},{"x":0.904,"y":-3.064,"m":1.9},{"x":0.926,"y":-3.08,"m":1.7},{"x":0.916,"y":-3.106,"m":0.8},{"x":0.889,"y":-3.14,"m":1.1},{"x":0.902,"y":-3.144,"m":1.1},{"x":0.913,"y":-3.216,"m":0.9},{"x":0.923,"y":-3.239,"m":0.7},{"x":0.821,"y":-3.277,"m":2.6},{"x":0.838,"y":-3.379,"m":2.5},{"x":0.882,"y":-3.288,"m":1.7},{"x":0.894,"y":-3.318,"m":2.1},{"x":0.886,"y":-3.337,"m":1.4},{"x":0.911,"y":-3.337,"m":0.9},{"x":0.664,"y":-3.398,"m":1.6},{"x":0.73,"y":-3.542,"m":2.6},{"x":0.907,"y":-3.568,"m":1.3},{"x":0.869,"y":-3.61,"m":1.8},{"x":0.866,"y":-3.689,"m":1.7},{"x":0.783,"y":-3.754,"m":1.5},{"x":0.804,"y":-3.75,"m":2.6},{"x":0.829,"y":-3.807,"m":2.5},{"x":0.885,"y":-3.928,"m":1.8},{"x":0.912,"y":-3.909,"m":1.1},{"x":0.852,"y":-4.08,"m":1.8},{"x":0.888,"y":-4.019,"m":0.7},{"x":0.983,"y":-4.011,"m":0.2},{"x":1.105,"y":-4.023,"m":-1.1},{"x":0.76,"y":-4.659,"m":0.5},{"x":0.985,"y":-3.098,"m":0.3},{"x":0.992,"y":-3.148,"m":0.2},{"x":1.009,"y":-3.129,"m":-0.4},{"x":1.017,"y":-3.182,"m":-0.7},{"x":1.026,"y":-3.212,"m":-0.2},{"x":1.032,"y":-3.182,"m":-0.3},{"x":0.975,"y":-3.277,"m":0.2},{"x":0.986,"y":-3.25,"m":0.1},{"x":0.995,"y":-3.25,"m":0.1},{"x":0.975,"y":-3.314,"m":0.2},{"x":0.97,"y":-3.36,"m":0.3},{"x":0.986,"y":-3.348,"m":-0.1},{"x":1.01,"y":-3.299,"m":-0.5},{"x":1.049,"y":-3.33,"m":-0.8},{"x":1.064,"y":-3.231,"m":-1.8},{"x":1.114,"y":-3.201,"m":0.0},{"x":1.119,"y":-3.258,"m":-0.5},{"x":1.126,"y":-3.261,"m":-0.4},{"x":1.085,"y":-3.36,"m":0.5},{"x":1.038,"y":-3.398,"m":-0.1},{"x":1.073,"y":-3.455,"m":-1.2},{"x":0.993,"y":-3.447,"m":-0.3},{"x":1.001,"y":-3.47,"m":0.5},{"x":1.061,"y":-3.568,"m":-0.7},{"x":1.053,"y":-3.61,"m":-0.4},{"x":0.982,"y":-3.64,"m":-0.3},{"x":0.978,"y":-3.701,"m":-0.1},{"x":1.033,"y":-3.67,"m":-0.2},{"x":1.128,"y":-3.697,"m":-1.2},{"x":1.026,"y":-2.803,"m":0.4},{"x":1.049,"y":-2.822,"m":-0.1},{"x":1.066,"y":-2.799,"m":1.9},{"x":1.026,"y":-2.898,"m":-0.7},{"x":1.041,"y":-2.883,"m":-0.3},{"x":1.055,"y":-2.898,"m":-0.8},{"x":1.035,"y":-2.947,"m":-0.1},{"x":1.034,"y":-2.985,"m":0.1},{"x":1.029,"y":-3.042,"m":0.3},{"x":1.085,"y":-2.989,"m":-0.4},{"x":1.095,"y":-2.89,"m":-1.5},{"x":1.104,"y":-2.951,"m":-1.0},{"x":1.129,"y":-2.917,"m":-1.2},{"x":1.124,"y":-2.958,"m":-0.9},{"x":1.126,"y":-3.004,"m":-2.2},{"x":1.102,"y":-3.08,"m":-1.1},{"x":1.041,"y":-3.08,"m":-0.3},{"x":1.047,"y":-3.068,"m":-0.7},{"x":1.049,"y":-3.091,"m":-0.4},{"x":1.067,"y":-3.11,"m":-0.1},{"x":1.146,"y":-3.201,"m":-2.1},{"x":1.004,"y":-2.769,"m":1.1},{"x":0.975,"y":-2.739,"m":0.9},{"x":0.94,"y":-2.727,"m":-0.7},{"x":0.921,"y":-2.765,"m":-0.4},{"x":0.931,"y":-2.761,"m":0.6},{"x":0.921,"y":-2.727,"m":1.8},{"x":1.091,"y":-2.769,"m":-1.1},{"x":1.09,"y":-2.686,"m":-0.5}]
},
"columns":2,"bounds":"flush","spacing":{"row":124,"column":27},
"concat":[
{"width":548,"height":500,"resolve":{"axis":{"x":"independent","y":"independent"}},"layer":[
{"data":{"name":"dwarfs"},"mark":{"type":"circle","size":44,"opacity":1},"encoding":{"x":{"field":"x","type":"quantitative","scale":{"domain":[0.348,1.631],"nice":false,"zero":false},"axis":{"orient":"bottom","title":"(BP-RP)","titleX":263,"titleY":84,"values":[0.5,1,1.5],"format":".1f","tickSize":-25,"tickWidth":2.5,"labelPadding":32}},"y":{"field":"y","type":"quantitative","scale":{"domain":[-3.48,0.653],"nice":false,"zero":false},"axis":{"orient":"left","title":"[Fe/H]","titleX":-71,"titleY":250,"titleAngle":270,"values":[-3,-2,-1,0],"format":"d","tickSize":-26,"tickWidth":2.5,"labelPadding":37}},"color":{"field":"m","type":"quantitative","legend":null,"scale":{"domain":[1,1.875,2.75,3.625,4.5,5.375,6.25,7.125,8],"range":["#00007f","#0000ff","#007fff","#14ffeb","#7dff7a","#ebff14","#ff9600","#ff2100","#7f0000"]}}}},
{"data":{"values":[]},"mark":"point","encoding":{"x":{"field":"x","type":"quantitative","scale":{"domain":[0.348,1.631],"nice":false,"zero":false},"axis":{"orient":"bottom","title":null,"labels":false,"values":[0.4,0.6,0.7,0.8,0.9,1.1,1.2,1.3,1.4,1.6],"tickSize":-8,"tickWidth":2}},"y":{"field":"y","type":"quantitative","scale":{"domain":[-3.48,0.653],"nice":false,"zero":false},"axis":{"orient":"left","title":null,"labels":false,"values":[-3.4,-3.2,-2.8,-2.6,-2.4,-2.2,-1.8,-1.6,-1.4,-1.2,-0.8,-0.6,-0.4,-0.2,0.2,0.4,0.6],"tickSize":-8,"tickWidth":2}}}},
{"data":{"values":[]},"mark":"point","encoding":{"x":{"field":"x","type":"quantitative","scale":{"domain":[0.348,1.631],"nice":false,"zero":false},"axis":{"orient":"top","title":null,"labels":false,"values":[0.5,1,1.5],"tickSize":-25,"tickWidth":2.5}},"y":{"field":"y","type":"quantitative","scale":{"domain":[-3.48,0.653],"nice":false,"zero":false},"axis":{"orient":"right","title":null,"labels":false,"values":[-3,-2,-1,0],"tickSize":-26,"tickWidth":2.5}}}},
{"data":{"values":[]},"mark":"point","encoding":{"x":{"field":"x","type":"quantitative","scale":{"domain":[0.348,1.631],"nice":false,"zero":false},"axis":{"orient":"top","title":null,"labels":false,"values":[0.4,0.6,0.7,0.8,0.9,1.1,1.2,1.3,1.4,1.6],"tickSize":-8,"tickWidth":2}},"y":{"field":"y","type":"quantitative","scale":{"domain":[-3.48,0.653],"nice":false,"zero":false},"axis":{"orient":"right","title":null,"labels":false,"values":[-3.4,-3.2,-2.8,-2.6,-2.4,-2.2,-1.8,-1.6,-1.4,-1.2,-0.8,-0.6,-0.4,-0.2,0.2,0.4,0.6],"tickSize":-8,"tickWidth":2}}}},
{"data":{"values":[{"x":1.334,"y":-3.248,"t":"Dwarfs"}]},"mark":{"type":"text","font":"Liberation Serif","fontWeight":"bold","fontSize":51,"baseline":"alphabetic","align":"center","color":"black"},"encoding":{"x":{"field":"x","type":"quantitative","axis":null},"y":{"field":"y","type":"quantitative","axis":null},"text":{"field":"t"}}},
{"data":{"values":[{"x":1.172,"y":-4.223,"t":"0"}]},"mark":{"type":"text","font":"DejaVu Sans","fontSize":30,"baseline":"alphabetic","align":"center","color":"black"},"encoding":{"x":{"field":"x","type":"quantitative","axis":null},"y":{"field":"y","type":"quantitative","axis":null},"text":{"field":"t"}}}
]},
{"width":24,"height":500,"resolve":{"axis":{"y":"independent"}},"layer":[
{"data":{"values":[{"lo":1.0},{"lo":1.1},{"lo":1.2},{"lo":1.3},{"lo":1.4},{"lo":1.5},{"lo":1.6},{"lo":1.7},{"lo":1.8},{"lo":1.9},{"lo":2.0},{"lo":2.1},{"lo":2.2},{"lo":2.3},{"lo":2.4},{"lo":2.5},{"lo":2.6},{"lo":2.7},{"lo":2.8},{"lo":2.9},{"lo":3.0},{"lo":3.1},{"lo":3.2},{"lo":3.3},{"lo":3.4},{"lo":3.5},{"lo":3.6},{"lo":3.7},{"lo":3.8},{"lo":3.9},{"lo":4.0},{"lo":4.1},{"lo":4.2},{"lo":4.3},{"lo":4.4},{"lo":4.5},{"lo":4.6},{"lo":4.7},{"lo":4.8},{"lo":4.9},{"lo":5.0},{"lo":5.1},{"lo":5.2},{"lo":5.3},{"lo":5.4},{"lo":5.5},{"lo":5.6},{"lo":5.7},{"lo":5.8},{"lo":5.9},{"lo":6.0},{"lo":6.1},{"lo":6.2},{"lo":6.3},{"lo":6.4},{"lo":6.5},{"lo":6.6},{"lo":6.7},{"lo":6.8},{"lo":6.9},{"lo":7.0},{"lo":7.1},{"lo":7.2},{"lo":7.3},{"lo":7.4},{"lo":7.5},{"lo":7.6},{"lo":7.7},{"lo":7.8},{"lo":7.9},{"lo":8.0}]},"mark":{"type":"tick","orient":"horizontal","thickness":8,"size":24,"opacity":1,"clip":true},"encoding":{"x":{"datum":0.5,"scale":{"domain":[0,1],"nice":false,"zero":false},"axis":null},"y":{"field":"lo","type":"quantitative","scale":{"domain":[1,8],"nice":false,"zero":false},"axis":{"orient":"right","zindex":2,"title":"M","titleX":70,"titleY":266,"titleAngle":270,"values":[1,2,3,4,5,6,7,8],"format":"d","tickSize":-24,"tickWidth":2.5,"labelPadding":36}},"color":{"field":"lo","type":"quantitative","legend":null,"scale":{"domain":[1,1.875,2.75,3.625,4.5,5.375,6.25,7.125,8],"range":["#00007f","#0000ff","#007fff","#14ffeb","#7dff7a","#ebff14","#ff9600","#ff2100","#7f0000"]}}}},
{"data":{"values":[]},"mark":"point","encoding":{"x":{"field":"x","type":"quantitative","axis":null},"y":{"field":"lo","type":"quantitative","scale":{"domain":[1,8],"nice":false,"zero":false},"axis":{"orient":"right","zindex":2,"title":null,"labels":false,"values":[1.2,1.4,1.6,1.8,2.2,2.4,2.6,2.8,3.2,3.4,3.6,3.8,4.2,4.4,4.6,4.8,5.2,5.4,5.6,5.8,6.2,6.4,6.6,6.8,7.2,7.4,7.6,7.8],"tickSize":-8,"tickWidth":2}}}},
{"data":{"values":[{"x":4.2,"y":4.72,"t":"G"}]},"mark":{"type":"text","font":"Liberation Serif","fontStyle":"italic","fontSize":32,"angle":270,"baseline":"alphabetic","align":"center","color":"black"},"encoding":{"x":{"field":"x","type":"quantitative","axis":null},"y":{"field":"y","type":"quantitative","axis":null},"text":{"field":"t"}}}
]},
{"width":548,"height":499,"resolve":{"axis":{"x":"independent","y":"independent"}},"layer":[
{"data":{"name":"giants"},"mark":{"type":"circle","size":44,"opacity":1},"encoding":{"x":{"field":"x","type":"quantitative","scale":{"domain":[0.543,1.656],"nice":false,"zero":false},"axis":{"orient":"bottom","title":"(BP-RP)","titleX":263,"titleY":83,"values":[1,1.5],"format":".1f","tickSize":-25,"tickWidth":2.5,"labelPadding":32}},"y":{"field":"y","type":"quantitative","scale":{"domain":[-4.91,0.761],"nice":false,"zero":false},"axis":{"orient":"left","title":"[Fe/H]","titleX":-71,"titleY":250,"titleAngle":270,"values":[-4,-3,-2,-1,0],"format":"d","tickSize":-26,"tickWidth":2.5,"labelPadding":37}},"color":{"field":"m","type":"quantitative","legend":null,"scale":{"domain":[-4,-3,-2,-1,0,1,2,3,4],"range":["#00007f","#0000ff","#007fff","#14ffeb","#7dff7a","#ebff14","#ff9600","#ff2100","#7f0000"]}}}},
{"data":{"values":[]},"mark":"point","encoding":{"x":{"field":"x","type":"quantitative","scale":{"domain":[0.543,1.656],"nice":false,"zero":false},"axis":{"orient":"bottom","title":null,"labels":false,"values":[0.6,0.7,0.8,0.9,1.1,1.2,1.3,1.4,1.6],"tickSize":-8,"tickWidth":2}},"y":{"field":"y","type":"quantitative","scale":{"domain":[-4.91,0.761],"nice":false,"zero":false},"axis":{"orient":"left","title":null,"labels":false,"values":[-4.8,-4.6,-4.4,-4.2,-3.8,-3.6,-3.4,-3.2,-2.8,-2.6,-2.4,-2.2,-1.8,-1.6,-1.4,-1.2,-0.8,-0.6,-0.4,-0.2,0.2,0.4,0.6],"tickSize":-8,"tickWidth":2}}}},
{"data":{"values":[]},"mark":"point","encoding":{"x":{"field":"x","type":"quantitative","scale":{"domain":[0.543,1.656],"nice":false,"zero":false},"axis":{"orient":"top","title":null,"labels":false,"values":[1,1.5],"tickSize":-25,"tickWidth":2.5}},"y":{"field":"y","type":"quantitative","scale":{"domain":[-4.91,0.761],"nice":false,"zero":false},"axis":{"orient":"right","title":null,"labels":false,"values":[-4,-3,-2,-1,0],"tickSize":-26,"tickWidth":2.5}}}},
{"data":{"values":[]},"mark":"point","encoding":{"x":{"field":"x","type":"quantitative","scale":{"domain":[0.543,1.656],"nice":false,"zero":false},"axis":{"orient":"top","title":null,"labels":false,"values":[0.6,0.7,0.8,0.9,1.1,1.2,1.3,1.4,1.6],"tickSize":-8,"tickWidth":2}},"y":{"field":"y","type":"quantitative","scale":{"domain":[-4.91,0.761],"nice":false,"zero":false},"axis":{"orient":"right","title":null,"labels":false,"values":[-4.8,-4.6,-4.4,-4.2,-3.8,-3.6,-3.4,-3.2,-2.8,-2.6,-2.4,-2.2,-1.8,-1.6,-1.4,-1.2,-0.8,-0.6,-0.4,-0.2,0.2,0.4,0.6],"tickSize":-8,"tickWidth":2}}}},
{"data":{"values":[{"x":1.4085,"y":-4.59,"t":"Giants"}]},"mark":{"type":"text","font":"Liberation Serif","fontWeight":"bold","fontSize":51,"baseline":"alphabetic","align":"center","color":"black"},"encoding":{"x":{"field":"x","type":"quantitative","axis":null},"y":{"field":"y","type":"quantitative","axis":null},"text":{"field":"t"}}},
{"data":{"values":[{"x":1.258,"y":-5.92,"t":"0"}]},"mark":{"type":"text","font":"DejaVu Sans","fontSize":30,"baseline":"alphabetic","align":"center","color":"black"},"encoding":{"x":{"field":"x","type":"quantitative","axis":null},"y":{"field":"y","type":"quantitative","axis":null},"text":{"field":"t"}}}
]},
{"width":24,"height":499,"resolve":{"axis":{"y":"independent"}},"layer":[
{"data":{"values":[{"lo":-4.0},{"lo":-3.9},{"lo":-3.8},{"lo":-3.7},{"lo":-3.6},{"lo":-3.5},{"lo":-3.4},{"lo":-3.3},{"lo":-3.2},{"lo":-3.1},{"lo":-3.0},{"lo":-2.9},{"lo":-2.8},{"lo":-2.7},{"lo":-2.6},{"lo":-2.5},{"lo":-2.4},{"lo":-2.3},{"lo":-2.2},{"lo":-2.1},{"lo":-2.0},{"lo":-1.9},{"lo":-1.8},{"lo":-1.7},{"lo":-1.6},{"lo":-1.5},{"lo":-1.4},{"lo":-1.3},{"lo":-1.2},{"lo":-1.1},{"lo":-1.0},{"lo":-0.9},{"lo":-0.8},{"lo":-0.7},{"lo":-0.6},{"lo":-0.5},{"lo":-0.4},{"lo":-0.3},{"lo":-0.2},{"lo":-0.1},{"lo":0.0},{"lo":0.1},{"lo":0.2},{"lo":0.3},{"lo":0.4},{"lo":0.5},{"lo":0.6},{"lo":0.7},{"lo":0.8},{"lo":0.9},{"lo":1.0},{"lo":1.1},{"lo":1.2},{"lo":1.3},{"lo":1.4},{"lo":1.5},{"lo":1.6},{"lo":1.7},{"lo":1.8},{"lo":1.9},{"lo":2.0},{"lo":2.1},{"lo":2.2},{"lo":2.3},{"lo":2.4},{"lo":2.5},{"lo":2.6},{"lo":2.7},{"lo":2.8},{"lo":2.9},{"lo":3.0},{"lo":3.1},{"lo":3.2},{"lo":3.3},{"lo":3.4},{"lo":3.5},{"lo":3.6},{"lo":3.7},{"lo":3.8},{"lo":3.9},{"lo":4.0}]},"mark":{"type":"tick","orient":"horizontal","thickness":7,"size":24,"opacity":1,"clip":true},"encoding":{"x":{"datum":0.5,"scale":{"domain":[0,1],"nice":false,"zero":false},"axis":null},"y":{"field":"lo","type":"quantitative","scale":{"domain":[-4,4],"nice":false,"zero":false},"axis":{"orient":"right","zindex":2,"title":"M","titleX":97,"titleY":261,"titleAngle":270,"values":[-4,-3,-2,-1,0,1,2,3,4],"format":"d","tickSize":-24,"tickWidth":2.5,"labelPadding":36}},"color":{"field":"lo","type":"quantitative","legend":null,"scale":{"domain":[-4,-3,-2,-1,0,1,2,3,4],"range":["#00007f","#0000ff","#007fff","#14ffeb","#7dff7a","#ebff14","#ff9600","#ff2100","#7f0000"]}}}},
{"data":{"values":[]},"mark":"point","encoding":{"x":{"field":"x","type":"quantitative","axis":null},"y":{"field":"lo","type":"quantitative","scale":{"domain":[-4,4],"nice":false,"zero":false},"axis":{"orient":"right","zindex":2,"title":null,"labels":false,"values":[-3.8,-3.6,-3.4,-3.2,-2.8,-2.6,-2.4,-2.2,-1.8,-1.6,-1.4,-1.2,-0.8,-0.6,-0.4,-0.2,0.2,0.4,0.6,0.8,1.2,1.4,1.6,1.8,2.2,2.4,2.6,2.8,3.2,3.4,3.6,3.8],"tickSize":-8,"tickWidth":2}}}},
{"data":{"values":[{"x":5.33,"y":0.32,"t":"G"}]},"mark":{"type":"text","font":"Liberation Serif","fontStyle":"italic","fontSize":32,"angle":270,"baseline":"alphabetic","align":"center","color":"black"},"encoding":{"x":{"field":"x","type":"quantitative","axis":null},"y":{"field":"y","type":"quantitative","axis":null},"text":{"field":"t"}}}
]}
],"resolve":{"scale":{"color":"independent"}}}
